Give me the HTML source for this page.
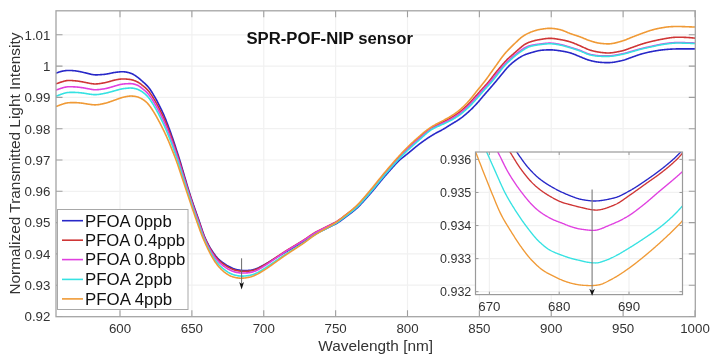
<!DOCTYPE html>
<html><head><meta charset="utf-8"><title>SPR-POF-NIP sensor</title>
<style>html,body{margin:0;padding:0;background:#fff;width:719px;height:360px;overflow:hidden}
text{font-family:"Liberation Sans",sans-serif}</style></head>
<body>
<svg width="719" height="360" viewBox="0 0 719 360" style="display:block;will-change:transform">
<defs><clipPath id="cm"><rect x="56" y="10.8" width="639.3" height="305.6"/></clipPath><clipPath id="ci"><rect x="475.5" y="152" width="207" height="142.6"/></clipPath></defs>
<rect width="719" height="360" fill="#fff"/>
<path d="M120.00,10.8V316.7M191.88,10.8V316.7M263.75,10.8V316.7M335.62,10.8V316.7M407.50,10.8V316.7M479.38,10.8V316.7M551.25,10.8V316.7M623.12,10.8V316.7M56.0,285.20H695.3M56.0,253.90H695.3M56.0,222.60H695.3M56.0,191.30H695.3M56.0,160.00H695.3M56.0,128.70H695.3M56.0,97.40H695.3M56.0,66.10H695.3M56.0,34.80H695.3" stroke="#f1f1f1" stroke-width="1.2" fill="none"/>
<g clip-path="url(#cm)" fill="none" stroke-width="1.6" stroke-linejoin="round">
<path d="M56,73.04 L56.5,72.92 L57,72.78 L57.5,72.62 L58,72.44 L58.5,72.27 L59,72.09 L59.5,71.92 L60,71.76 L60.5,71.62 L61,71.48 L61.5,71.36 L62,71.24 L62.5,71.13 L63,71.04 L63.5,70.94 L64,70.86 L64.5,70.78 L65,70.71 L65.5,70.64 L66,70.58 L66.5,70.54 L67,70.5 L67.5,70.47 L68,70.45 L68.5,70.44 L69,70.44 L69.5,70.45 L70,70.46 L70.5,70.48 L71,70.5 L71.5,70.53 L72,70.56 L72.5,70.6 L73,70.64 L73.5,70.68 L74,70.72 L74.5,70.77 L75,70.82 L75.5,70.88 L76,70.94 L76.5,71.01 L77,71.09 L77.5,71.17 L78,71.26 L78.5,71.35 L79,71.45 L79.5,71.55 L80,71.65 L80.5,71.75 L81,71.86 L81.5,71.97 L82,72.08 L82.5,72.19 L83,72.3 L83.5,72.42 L84,72.54 L84.5,72.66 L85,72.78 L85.5,72.9 L86,73.02 L86.5,73.14 L87,73.26 L87.5,73.39 L88,73.51 L88.5,73.63 L89,73.75 L89.5,73.88 L90,74 L90.5,74.12 L91,74.24 L91.5,74.36 L92,74.46 L92.5,74.56 L93,74.64 L93.5,74.71 L94,74.77 L94.5,74.81 L95,74.84 L95.5,74.86 L96,74.86 L96.5,74.86 L97,74.85 L97.5,74.83 L98,74.81 L98.5,74.79 L99,74.76 L99.5,74.74 L100,74.7 L100.5,74.67 L101,74.63 L101.5,74.6 L102,74.56 L102.5,74.52 L103,74.47 L103.5,74.43 L104,74.38 L104.5,74.33 L105,74.27 L105.5,74.21 L106,74.14 L106.5,74.07 L107,73.99 L107.5,73.9 L108,73.8 L108.5,73.7 L109,73.6 L109.5,73.49 L110,73.38 L110.5,73.27 L111,73.16 L111.5,73.05 L112,72.95 L112.5,72.85 L113,72.75 L113.5,72.66 L114,72.57 L114.5,72.49 L115,72.42 L115.5,72.35 L116,72.29 L116.5,72.22 L117,72.16 L117.5,72.11 L118,72.05 L118.5,72 L119,71.95 L119.5,71.9 L120,71.86 L120.5,71.82 L121,71.79 L121.5,71.77 L122,71.76 L122.5,71.75 L123,71.76 L123.5,71.77 L124,71.8 L124.5,71.84 L125,71.9 L125.5,71.96 L126,72.05 L126.5,72.14 L127,72.24 L127.5,72.35 L128,72.47 L128.5,72.6 L129,72.74 L129.5,72.88 L130,73.03 L130.5,73.2 L131,73.37 L131.5,73.57 L132,73.78 L132.5,74.01 L133,74.26 L133.5,74.53 L134,74.82 L134.5,75.12 L135,75.44 L135.5,75.77 L136,76.12 L136.5,76.47 L137,76.83 L137.5,77.2 L138,77.57 L138.5,77.96 L139,78.37 L139.5,78.78 L140,79.2 L140.5,79.63 L141,80.07 L141.5,80.52 L142,80.97 L142.5,81.42 L143,81.86 L143.5,82.31 L144,82.76 L144.5,83.21 L145,83.67 L145.5,84.13 L146,84.61 L146.5,85.1 L147,85.61 L147.5,86.15 L148,86.71 L148.5,87.3 L149,87.92 L149.5,88.57 L150,89.25 L150.5,89.97 L151,90.71 L151.5,91.49 L152,92.29 L152.5,93.11 L153,93.95 L153.5,94.79 L154,95.63 L154.5,96.49 L155,97.35 L155.5,98.22 L156,99.1 L156.5,100 L157,100.92 L157.5,101.86 L158,102.82 L158.5,103.8 L159,104.79 L159.5,105.79 L160,106.79 L160.5,107.81 L161,108.83 L161.5,109.86 L162,110.91 L162.5,111.98 L163,113.07 L163.5,114.19 L164,115.33 L164.5,116.5 L165,117.7 L165.5,118.92 L166,120.16 L166.5,121.43 L167,122.71 L167.5,124.01 L168,125.33 L168.5,126.66 L169,128 L169.5,129.35 L170,130.72 L170.5,132.11 L171,133.52 L171.5,134.95 L172,136.4 L172.5,137.87 L173,139.34 L173.5,140.83 L174,142.33 L174.5,143.84 L175,145.35 L175.5,146.87 L176,148.39 L176.5,149.92 L177,151.45 L177.5,152.99 L178,154.55 L178.5,156.11 L179,157.7 L179.5,159.3 L180,160.93 L180.5,162.58 L181,164.25 L181.5,165.94 L182,167.64 L182.5,169.35 L183,171.06 L183.5,172.77 L184,174.49 L184.5,176.2 L185,177.9 L185.5,179.6 L186,181.3 L186.5,182.98 L187,184.66 L187.5,186.32 L188,187.96 L188.5,189.58 L189,191.18 L189.5,192.77 L190,194.34 L190.5,195.89 L191,197.42 L191.5,198.94 L192,200.45 L192.5,201.95 L193,203.43 L193.5,204.9 L194,206.35 L194.5,207.8 L195,209.22 L195.5,210.64 L196,212.05 L196.5,213.45 L197,214.85 L197.5,216.25 L198,217.65 L198.5,219.07 L199,220.51 L199.5,221.97 L200,223.46 L200.5,224.96 L201,226.48 L201.5,228 L202,229.51 L202.5,231 L203,232.44 L203.5,233.83 L204,235.16 L204.5,236.43 L205,237.64 L205.5,238.79 L206,239.9 L206.5,240.96 L207,241.98 L207.5,242.97 L208,243.93 L208.5,244.87 L209,245.78 L209.5,246.67 L210,247.53 L210.5,248.37 L211,249.19 L211.5,249.99 L212,250.76 L212.5,251.52 L213,252.25 L213.5,252.96 L214,253.66 L214.5,254.34 L215,255 L215.5,255.64 L216,256.26 L216.5,256.85 L217,257.42 L217.5,257.97 L218,258.49 L218.5,258.99 L219,259.46 L219.5,259.92 L220,260.36 L220.5,260.78 L221,261.18 L221.5,261.58 L222,261.96 L222.5,262.34 L223,262.7 L223.5,263.06 L224,263.41 L224.5,263.76 L225,264.09 L225.5,264.42 L226,264.75 L226.5,265.06 L227,265.37 L227.5,265.66 L228,265.95 L228.5,266.24 L229,266.51 L229.5,266.78 L230,267.04 L230.5,267.29 L231,267.54 L231.5,267.78 L232,268.01 L232.5,268.23 L233,268.44 L233.5,268.64 L234,268.82 L234.5,268.99 L235,269.15 L235.5,269.29 L236,269.43 L236.5,269.56 L237,269.68 L237.5,269.79 L238,269.89 L238.5,269.99 L239,270.08 L239.5,270.15 L240,270.22 L240.5,270.28 L241,270.33 L241.5,270.38 L242,270.41 L242.5,270.44 L243,270.46 L243.5,270.48 L244,270.49 L244.5,270.49 L245,270.5 L245.5,270.5 L246,270.49 L246.5,270.48 L247,270.47 L247.5,270.46 L248,270.44 L248.5,270.41 L249,270.38 L249.5,270.34 L250,270.3 L250.5,270.24 L251,270.17 L251.5,270.08 L252,269.99 L252.5,269.88 L253,269.75 L253.5,269.62 L254,269.48 L254.5,269.32 L255,269.16 L255.5,268.99 L256,268.81 L256.5,268.62 L257,268.42 L257.5,268.22 L258,268 L258.5,267.77 L259,267.54 L259.5,267.29 L260,267.04 L260.5,266.79 L261,266.53 L261.5,266.26 L262,266 L262.5,265.73 L263,265.46 L263.5,265.18 L264,264.91 L264.5,264.63 L265,264.36 L265.5,264.08 L266,263.8 L266.5,263.51 L267,263.22 L267.5,262.93 L268,262.64 L268.5,262.34 L269,262.04 L269.5,261.73 L270,261.43 L270.5,261.12 L271,260.81 L271.5,260.5 L272,260.19 L272.5,259.88 L273,259.58 L273.5,259.27 L274,258.96 L274.5,258.66 L275,258.35 L275.5,258.05 L276,257.75 L276.5,257.44 L277,257.14 L277.5,256.84 L278,256.53 L278.5,256.23 L279,255.93 L279.5,255.62 L280,255.32 L280.5,255.02 L281,254.72 L281.5,254.42 L282,254.12 L282.5,253.82 L283,253.52 L283.5,253.23 L284,252.94 L284.5,252.65 L285,252.36 L285.5,252.07 L286,251.79 L286.5,251.51 L287,251.23 L287.5,250.95 L288,250.67 L288.5,250.39 L289,250.12 L289.5,249.84 L290,249.56 L290.5,249.28 L291,248.99 L291.5,248.71 L292,248.42 L292.5,248.13 L293,247.84 L293.5,247.55 L294,247.26 L294.5,246.97 L295,246.68 L295.5,246.39 L296,246.09 L296.5,245.8 L297,245.51 L297.5,245.22 L298,244.93 L298.5,244.63 L299,244.34 L299.5,244.05 L300,243.75 L300.5,243.46 L301,243.16 L301.5,242.87 L302,242.57 L302.5,242.27 L303,241.96 L303.5,241.66 L304,241.35 L304.5,241.03 L305,240.72 L305.5,240.4 L306,240.07 L306.5,239.74 L307,239.41 L307.5,239.07 L308,238.73 L308.5,238.39 L309,238.04 L309.5,237.7 L310,237.36 L310.5,237.02 L311,236.69 L311.5,236.36 L312,236.03 L312.5,235.71 L313,235.4 L313.5,235.1 L314,234.8 L314.5,234.51 L315,234.22 L315.5,233.94 L316,233.67 L316.5,233.4 L317,233.14 L317.5,232.87 L318,232.62 L318.5,232.36 L319,232.11 L319.5,231.86 L320,231.62 L320.5,231.37 L321,231.13 L321.5,230.89 L322,230.65 L322.5,230.41 L323,230.17 L323.5,229.93 L324,229.69 L324.5,229.45 L325,229.21 L325.5,228.97 L326,228.73 L326.5,228.49 L327,228.25 L327.5,228.01 L328,227.77 L328.5,227.53 L329,227.29 L329.5,227.06 L330,226.82 L330.5,226.59 L331,226.35 L331.5,226.12 L332,225.88 L332.5,225.64 L333,225.4 L333.5,225.15 L334,224.9 L334.5,224.64 L335,224.37 L335.5,224.1 L336,223.81 L336.5,223.52 L337,223.22 L337.5,222.92 L338,222.6 L338.5,222.27 L339,221.94 L339.5,221.6 L340,221.25 L340.5,220.9 L341,220.54 L341.5,220.18 L342,219.81 L342.5,219.44 L343,219.07 L343.5,218.69 L344,218.32 L344.5,217.94 L345,217.57 L345.5,217.19 L346,216.82 L346.5,216.44 L347,216.07 L347.5,215.7 L348,215.33 L348.5,214.96 L349,214.58 L349.5,214.21 L350,213.83 L350.5,213.45 L351,213.07 L351.5,212.69 L352,212.3 L352.5,211.9 L353,211.5 L353.5,211.09 L354,210.68 L354.5,210.26 L355,209.83 L355.5,209.4 L356,208.95 L356.5,208.5 L357,208.04 L357.5,207.57 L358,207.09 L358.5,206.6 L359,206.11 L359.5,205.6 L360,205.09 L360.5,204.58 L361,204.06 L361.5,203.53 L362,202.99 L362.5,202.45 L363,201.91 L363.5,201.36 L364,200.81 L364.5,200.26 L365,199.7 L365.5,199.14 L366,198.58 L366.5,198.01 L367,197.45 L367.5,196.88 L368,196.32 L368.5,195.75 L369,195.18 L369.5,194.61 L370,194.04 L370.5,193.46 L371,192.89 L371.5,192.31 L372,191.72 L372.5,191.13 L373,190.54 L373.5,189.94 L374,189.34 L374.5,188.74 L375,188.14 L375.5,187.53 L376,186.92 L376.5,186.31 L377,185.7 L377.5,185.09 L378,184.48 L378.5,183.86 L379,183.25 L379.5,182.64 L380,182.04 L380.5,181.43 L381,180.83 L381.5,180.22 L382,179.63 L382.5,179.03 L383,178.44 L383.5,177.85 L384,177.26 L384.5,176.68 L385,176.1 L385.5,175.52 L386,174.94 L386.5,174.37 L387,173.79 L387.5,173.22 L388,172.65 L388.5,172.08 L389,171.51 L389.5,170.95 L390,170.38 L390.5,169.82 L391,169.25 L391.5,168.69 L392,168.13 L392.5,167.57 L393,167.01 L393.5,166.46 L394,165.9 L394.5,165.35 L395,164.79 L395.5,164.24 L396,163.7 L396.5,163.16 L397,162.63 L397.5,162.11 L398,161.6 L398.5,161.11 L399,160.64 L399.5,160.19 L400,159.74 L400.5,159.32 L401,158.9 L401.5,158.49 L402,158.09 L402.5,157.69 L403,157.3 L403.5,156.91 L404,156.53 L404.5,156.14 L405,155.75 L405.5,155.37 L406,154.98 L406.5,154.58 L407,154.18 L407.5,153.78 L408,153.37 L408.5,152.96 L409,152.54 L409.5,152.13 L410,151.71 L410.5,151.28 L411,150.86 L411.5,150.44 L412,150.02 L412.5,149.6 L413,149.17 L413.5,148.76 L414,148.34 L414.5,147.93 L415,147.51 L415.5,147.11 L416,146.7 L416.5,146.3 L417,145.91 L417.5,145.52 L418,145.13 L418.5,144.74 L419,144.36 L419.5,143.98 L420,143.61 L420.5,143.23 L421,142.86 L421.5,142.49 L422,142.13 L422.5,141.77 L423,141.4 L423.5,141.05 L424,140.69 L424.5,140.34 L425,139.99 L425.5,139.64 L426,139.3 L426.5,138.95 L427,138.62 L427.5,138.28 L428,137.95 L428.5,137.62 L429,137.29 L429.5,136.97 L430,136.65 L430.5,136.33 L431,136.02 L431.5,135.7 L432,135.4 L432.5,135.09 L433,134.79 L433.5,134.49 L434,134.2 L434.5,133.91 L435,133.62 L435.5,133.34 L436,133.06 L436.5,132.79 L437,132.52 L437.5,132.25 L438,131.99 L438.5,131.73 L439,131.47 L439.5,131.21 L440,130.95 L440.5,130.69 L441,130.43 L441.5,130.17 L442,129.9 L442.5,129.63 L443,129.35 L443.5,129.07 L444,128.78 L444.5,128.49 L445,128.19 L445.5,127.88 L446,127.57 L446.5,127.26 L447,126.94 L447.5,126.62 L448,126.29 L448.5,125.97 L449,125.65 L449.5,125.33 L450,125.02 L450.5,124.71 L451,124.4 L451.5,124.09 L452,123.79 L452.5,123.49 L453,123.19 L453.5,122.89 L454,122.59 L454.5,122.29 L455,121.99 L455.5,121.69 L456,121.38 L456.5,121.08 L457,120.76 L457.5,120.45 L458,120.12 L458.5,119.79 L459,119.46 L459.5,119.12 L460,118.77 L460.5,118.41 L461,118.04 L461.5,117.67 L462,117.3 L462.5,116.91 L463,116.52 L463.5,116.12 L464,115.72 L464.5,115.31 L465,114.9 L465.5,114.48 L466,114.05 L466.5,113.62 L467,113.19 L467.5,112.75 L468,112.3 L468.5,111.85 L469,111.4 L469.5,110.94 L470,110.48 L470.5,110.01 L471,109.53 L471.5,109.05 L472,108.56 L472.5,108.07 L473,107.57 L473.5,107.06 L474,106.55 L474.5,106.04 L475,105.51 L475.5,104.98 L476,104.45 L476.5,103.91 L477,103.36 L477.5,102.81 L478,102.25 L478.5,101.69 L479,101.11 L479.5,100.53 L480,99.95 L480.5,99.35 L481,98.76 L481.5,98.15 L482,97.55 L482.5,96.96 L483,96.36 L483.5,95.77 L484,95.19 L484.5,94.61 L485,94.03 L485.5,93.46 L486,92.89 L486.5,92.31 L487,91.74 L487.5,91.17 L488,90.6 L488.5,90.02 L489,89.45 L489.5,88.87 L490,88.29 L490.5,87.72 L491,87.14 L491.5,86.56 L492,85.98 L492.5,85.4 L493,84.81 L493.5,84.23 L494,83.64 L494.5,83.05 L495,82.46 L495.5,81.87 L496,81.27 L496.5,80.67 L497,80.07 L497.5,79.46 L498,78.85 L498.5,78.25 L499,77.64 L499.5,77.03 L500,76.42 L500.5,75.81 L501,75.21 L501.5,74.6 L502,73.99 L502.5,73.39 L503,72.78 L503.5,72.17 L504,71.56 L504.5,70.96 L505,70.36 L505.5,69.76 L506,69.17 L506.5,68.59 L507,68.03 L507.5,67.48 L508,66.95 L508.5,66.43 L509,65.92 L509.5,65.43 L510,64.96 L510.5,64.49 L511,64.04 L511.5,63.6 L512,63.16 L512.5,62.74 L513,62.33 L513.5,61.92 L514,61.53 L514.5,61.14 L515,60.76 L515.5,60.39 L516,60.02 L516.5,59.67 L517,59.31 L517.5,58.96 L518,58.62 L518.5,58.28 L519,57.95 L519.5,57.62 L520,57.31 L520.5,57 L521,56.7 L521.5,56.41 L522,56.13 L522.5,55.87 L523,55.61 L523.5,55.37 L524,55.14 L524.5,54.92 L525,54.72 L525.5,54.52 L526,54.33 L526.5,54.15 L527,53.97 L527.5,53.81 L528,53.64 L528.5,53.49 L529,53.33 L529.5,53.18 L530,53.03 L530.5,52.89 L531,52.75 L531.5,52.6 L532,52.46 L532.5,52.32 L533,52.18 L533.5,52.03 L534,51.89 L534.5,51.74 L535,51.6 L535.5,51.45 L536,51.31 L536.5,51.17 L537,51.04 L537.5,50.91 L538,50.8 L538.5,50.69 L539,50.6 L539.5,50.52 L540,50.44 L540.5,50.38 L541,50.32 L541.5,50.27 L542,50.22 L542.5,50.17 L543,50.13 L543.5,50.09 L544,50.05 L544.5,50.02 L545,49.98 L545.5,49.95 L546,49.93 L546.5,49.9 L547,49.88 L547.5,49.86 L548,49.85 L548.5,49.83 L549,49.83 L549.5,49.82 L550,49.83 L550.5,49.83 L551,49.85 L551.5,49.86 L552,49.89 L552.5,49.92 L553,49.96 L553.5,50 L554,50.04 L554.5,50.09 L555,50.15 L555.5,50.21 L556,50.27 L556.5,50.33 L557,50.39 L557.5,50.46 L558,50.53 L558.5,50.6 L559,50.66 L559.5,50.73 L560,50.81 L560.5,50.88 L561,50.95 L561.5,51.03 L562,51.11 L562.5,51.19 L563,51.28 L563.5,51.37 L564,51.46 L564.5,51.55 L565,51.65 L565.5,51.75 L566,51.86 L566.5,51.97 L567,52.08 L567.5,52.19 L568,52.31 L568.5,52.43 L569,52.56 L569.5,52.69 L570,52.83 L570.5,52.98 L571,53.13 L571.5,53.29 L572,53.46 L572.5,53.64 L573,53.82 L573.5,54.01 L574,54.21 L574.5,54.41 L575,54.61 L575.5,54.82 L576,55.03 L576.5,55.24 L577,55.45 L577.5,55.67 L578,55.88 L578.5,56.08 L579,56.29 L579.5,56.49 L580,56.7 L580.5,56.9 L581,57.11 L581.5,57.31 L582,57.52 L582.5,57.73 L583,57.93 L583.5,58.14 L584,58.35 L584.5,58.56 L585,58.76 L585.5,58.96 L586,59.16 L586.5,59.35 L587,59.53 L587.5,59.71 L588,59.88 L588.5,60.04 L589,60.19 L589.5,60.33 L590,60.47 L590.5,60.6 L591,60.73 L591.5,60.85 L592,60.96 L592.5,61.08 L593,61.19 L593.5,61.29 L594,61.4 L594.5,61.5 L595,61.59 L595.5,61.68 L596,61.77 L596.5,61.85 L597,61.93 L597.5,62 L598,62.07 L598.5,62.13 L599,62.18 L599.5,62.24 L600,62.28 L600.5,62.33 L601,62.37 L601.5,62.41 L602,62.44 L602.5,62.48 L603,62.51 L603.5,62.54 L604,62.57 L604.5,62.59 L605,62.61 L605.5,62.63 L606,62.65 L606.5,62.66 L607,62.67 L607.5,62.67 L608,62.67 L608.5,62.67 L609,62.65 L609.5,62.63 L610,62.6 L610.5,62.57 L611,62.53 L611.5,62.48 L612,62.43 L612.5,62.37 L613,62.31 L613.5,62.24 L614,62.17 L614.5,62.09 L615,62.01 L615.5,61.92 L616,61.83 L616.5,61.74 L617,61.64 L617.5,61.54 L618,61.44 L618.5,61.34 L619,61.24 L619.5,61.13 L620,61.02 L620.5,60.92 L621,60.81 L621.5,60.69 L622,60.58 L622.5,60.45 L623,60.32 L623.5,60.19 L624,60.05 L624.5,59.89 L625,59.74 L625.5,59.57 L626,59.4 L626.5,59.22 L627,59.04 L627.5,58.86 L628,58.68 L628.5,58.49 L629,58.3 L629.5,58.12 L630,57.93 L630.5,57.75 L631,57.56 L631.5,57.38 L632,57.21 L632.5,57.03 L633,56.85 L633.5,56.67 L634,56.49 L634.5,56.32 L635,56.14 L635.5,55.96 L636,55.78 L636.5,55.6 L637,55.43 L637.5,55.25 L638,55.08 L638.5,54.91 L639,54.74 L639.5,54.58 L640,54.42 L640.5,54.26 L641,54.11 L641.5,53.96 L642,53.82 L642.5,53.68 L643,53.54 L643.5,53.41 L644,53.28 L644.5,53.15 L645,53.03 L645.5,52.91 L646,52.79 L646.5,52.67 L647,52.55 L647.5,52.44 L648,52.33 L648.5,52.22 L649,52.11 L649.5,52.01 L650,51.9 L650.5,51.8 L651,51.7 L651.5,51.6 L652,51.51 L652.5,51.41 L653,51.32 L653.5,51.22 L654,51.13 L654.5,51.04 L655,50.95 L655.5,50.87 L656,50.78 L656.5,50.7 L657,50.61 L657.5,50.53 L658,50.45 L658.5,50.38 L659,50.3 L659.5,50.23 L660,50.16 L660.5,50.09 L661,50.03 L661.5,49.97 L662,49.91 L662.5,49.85 L663,49.8 L663.5,49.74 L664,49.69 L664.5,49.64 L665,49.59 L665.5,49.55 L666,49.5 L666.5,49.46 L667,49.42 L667.5,49.38 L668,49.34 L668.5,49.3 L669,49.27 L669.5,49.24 L670,49.2 L670.5,49.17 L671,49.14 L671.5,49.11 L672,49.09 L672.5,49.06 L673,49.03 L673.5,49.01 L674,48.99 L674.5,48.97 L675,48.95 L675.5,48.94 L676,48.92 L676.5,48.92 L677,48.91 L677.5,48.91 L678,48.9 L678.5,48.9 L679,48.9 L679.5,48.9 L680,48.9 L680.5,48.9 L681,48.9 L681.5,48.9 L682,48.9 L682.5,48.9 L683,48.9 L683.5,48.9 L684,48.9 L684.5,48.9 L685,48.9 L685.5,48.9 L686,48.9 L686.5,48.9 L687,48.9 L687.5,48.9 L688,48.9 L688.5,48.9 L689,48.9 L689.5,48.9 L690,48.9 L690.5,48.9 L691,48.9 L691.5,48.9 L692,48.9 L692.5,48.9 L693,48.9 L693.5,48.9 L694,48.9 L694.5,48.9 L695,48.9" stroke="#2828c8"/>
<path d="M56,83.75 L56.5,83.64 L57,83.5 L57.5,83.34 L58,83.16 L58.5,82.98 L59,82.8 L59.5,82.63 L60,82.45 L60.5,82.28 L61,82.12 L61.5,81.96 L62,81.81 L62.5,81.66 L63,81.51 L63.5,81.37 L64,81.23 L64.5,81.09 L65,80.97 L65.5,80.85 L66,80.75 L66.5,80.66 L67,80.58 L67.5,80.53 L68,80.49 L68.5,80.46 L69,80.45 L69.5,80.45 L70,80.47 L70.5,80.48 L71,80.51 L71.5,80.54 L72,80.57 L72.5,80.6 L73,80.64 L73.5,80.68 L74,80.72 L74.5,80.77 L75,80.81 L75.5,80.86 L76,80.91 L76.5,80.97 L77,81.02 L77.5,81.08 L78,81.15 L78.5,81.22 L79,81.29 L79.5,81.36 L80,81.44 L80.5,81.52 L81,81.6 L81.5,81.68 L82,81.77 L82.5,81.87 L83,81.96 L83.5,82.06 L84,82.17 L84.5,82.27 L85,82.38 L85.5,82.49 L86,82.59 L86.5,82.69 L87,82.8 L87.5,82.9 L88,82.99 L88.5,83.09 L89,83.18 L89.5,83.27 L90,83.37 L90.5,83.45 L91,83.54 L91.5,83.62 L92,83.7 L92.5,83.76 L93,83.82 L93.5,83.87 L94,83.91 L94.5,83.93 L95,83.94 L95.5,83.94 L96,83.93 L96.5,83.91 L97,83.88 L97.5,83.84 L98,83.8 L98.5,83.75 L99,83.69 L99.5,83.62 L100,83.55 L100.5,83.47 L101,83.4 L101.5,83.31 L102,83.23 L102.5,83.14 L103,83.05 L103.5,82.96 L104,82.87 L104.5,82.78 L105,82.68 L105.5,82.57 L106,82.46 L106.5,82.34 L107,82.22 L107.5,82.09 L108,81.95 L108.5,81.8 L109,81.66 L109.5,81.51 L110,81.36 L110.5,81.2 L111,81.05 L111.5,80.91 L112,80.76 L112.5,80.62 L113,80.49 L113.5,80.36 L114,80.24 L114.5,80.13 L115,80.02 L115.5,79.92 L116,79.82 L116.5,79.73 L117,79.63 L117.5,79.54 L118,79.46 L118.5,79.37 L119,79.3 L119.5,79.22 L120,79.16 L120.5,79.1 L121,79.05 L121.5,79.01 L122,78.98 L122.5,78.96 L123,78.94 L123.5,78.94 L124,78.95 L124.5,78.96 L125,78.98 L125.5,79.01 L126,79.04 L126.5,79.08 L127,79.13 L127.5,79.18 L128,79.23 L128.5,79.28 L129,79.35 L129.5,79.41 L130,79.48 L130.5,79.56 L131,79.65 L131.5,79.75 L132,79.86 L132.5,79.99 L133,80.12 L133.5,80.28 L134,80.45 L134.5,80.63 L135,80.82 L135.5,81.03 L136,81.25 L136.5,81.48 L137,81.72 L137.5,81.97 L138,82.24 L138.5,82.53 L139,82.84 L139.5,83.16 L140,83.51 L140.5,83.86 L141,84.23 L141.5,84.62 L142,85.01 L142.5,85.4 L143,85.8 L143.5,86.2 L144,86.61 L144.5,87.03 L145,87.46 L145.5,87.9 L146,88.35 L146.5,88.83 L147,89.32 L147.5,89.85 L148,90.4 L148.5,90.98 L149,91.59 L149.5,92.23 L150,92.9 L150.5,93.6 L151,94.33 L151.5,95.09 L152,95.87 L152.5,96.67 L153,97.48 L153.5,98.3 L154,99.13 L154.5,99.97 L155,100.82 L155.5,101.68 L156,102.55 L156.5,103.44 L157,104.34 L157.5,105.27 L158,106.21 L158.5,107.16 L159,108.13 L159.5,109.11 L160,110.1 L160.5,111.09 L161,112.1 L161.5,113.11 L162,114.14 L162.5,115.19 L163,116.25 L163.5,117.34 L164,118.45 L164.5,119.59 L165,120.75 L165.5,121.93 L166,123.13 L166.5,124.36 L167,125.6 L167.5,126.86 L168,128.13 L168.5,129.42 L169,130.72 L169.5,132.04 L170,133.37 L170.5,134.73 L171,136.1 L171.5,137.48 L172,138.88 L172.5,140.3 L173,141.73 L173.5,143.17 L174,144.62 L174.5,146.07 L175,147.54 L175.5,149.02 L176,150.5 L176.5,151.99 L177,153.5 L177.5,155.01 L178,156.54 L178.5,158.08 L179,159.64 L179.5,161.22 L180,162.82 L180.5,164.44 L181,166.07 L181.5,167.72 L182,169.38 L182.5,171.05 L183,172.72 L183.5,174.39 L184,176.06 L184.5,177.73 L185,179.39 L185.5,181.06 L186,182.71 L186.5,184.36 L187,186 L187.5,187.63 L188,189.24 L188.5,190.84 L189,192.43 L189.5,193.99 L190,195.54 L190.5,197.08 L191,198.6 L191.5,200.11 L192,201.61 L192.5,203.1 L193,204.57 L193.5,206.04 L194,207.49 L194.5,208.93 L195,210.35 L195.5,211.77 L196,213.18 L196.5,214.58 L197,215.98 L197.5,217.38 L198,218.79 L198.5,220.2 L199,221.63 L199.5,223.08 L200,224.54 L200.5,226.02 L201,227.51 L201.5,228.99 L202,230.46 L202.5,231.9 L203,233.3 L203.5,234.66 L204,235.96 L204.5,237.2 L205,238.39 L205.5,239.54 L206,240.64 L206.5,241.7 L207,242.72 L207.5,243.72 L208,244.69 L208.5,245.64 L209,246.56 L209.5,247.47 L210,248.34 L210.5,249.2 L211,250.03 L211.5,250.84 L212,251.63 L212.5,252.4 L213,253.14 L213.5,253.87 L214,254.58 L214.5,255.27 L215,255.94 L215.5,256.58 L216,257.21 L216.5,257.81 L217,258.39 L217.5,258.95 L218,259.48 L218.5,259.99 L219,260.47 L219.5,260.94 L220,261.39 L220.5,261.82 L221,262.23 L221.5,262.64 L222,263.03 L222.5,263.41 L223,263.78 L223.5,264.14 L224,264.49 L224.5,264.84 L225,265.18 L225.5,265.51 L226,265.83 L226.5,266.15 L227,266.46 L227.5,266.75 L228,267.04 L228.5,267.32 L229,267.59 L229.5,267.85 L230,268.11 L230.5,268.35 L231,268.59 L231.5,268.82 L232,269.04 L232.5,269.25 L233,269.45 L233.5,269.64 L234,269.81 L234.5,269.97 L235,270.12 L235.5,270.26 L236,270.39 L236.5,270.5 L237,270.61 L237.5,270.72 L238,270.81 L238.5,270.9 L239,270.98 L239.5,271.05 L240,271.11 L240.5,271.16 L241,271.2 L241.5,271.23 L242,271.25 L242.5,271.27 L243,271.28 L243.5,271.29 L244,271.29 L244.5,271.29 L245,271.28 L245.5,271.27 L246,271.26 L246.5,271.24 L247,271.22 L247.5,271.19 L248,271.16 L248.5,271.13 L249,271.09 L249.5,271.04 L250,270.99 L250.5,270.92 L251,270.84 L251.5,270.75 L252,270.64 L252.5,270.52 L253,270.39 L253.5,270.24 L254,270.09 L254.5,269.92 L255,269.75 L255.5,269.56 L256,269.37 L256.5,269.16 L257,268.94 L257.5,268.72 L258,268.48 L258.5,268.23 L259,267.98 L259.5,267.71 L260,267.44 L260.5,267.17 L261,266.89 L261.5,266.6 L262,266.32 L262.5,266.03 L263,265.74 L263.5,265.44 L264,265.15 L264.5,264.85 L265,264.56 L265.5,264.26 L266,263.96 L266.5,263.65 L267,263.34 L267.5,263.03 L268,262.72 L268.5,262.4 L269,262.07 L269.5,261.75 L270,261.41 L270.5,261.08 L271,260.75 L271.5,260.41 L272,260.07 L272.5,259.73 L273,259.4 L273.5,259.06 L274,258.72 L274.5,258.39 L275,258.05 L275.5,257.72 L276,257.39 L276.5,257.05 L277,256.72 L277.5,256.39 L278,256.05 L278.5,255.72 L279,255.39 L279.5,255.05 L280,254.72 L280.5,254.39 L281,254.06 L281.5,253.73 L282,253.4 L282.5,253.07 L283,252.74 L283.5,252.42 L284,252.1 L284.5,251.78 L285,251.46 L285.5,251.14 L286,250.83 L286.5,250.52 L287,250.21 L287.5,249.9 L288,249.59 L288.5,249.29 L289,248.99 L289.5,248.68 L290,248.38 L290.5,248.08 L291,247.78 L291.5,247.48 L292,247.18 L292.5,246.88 L293,246.58 L293.5,246.28 L294,245.98 L294.5,245.68 L295,245.38 L295.5,245.08 L296,244.77 L296.5,244.47 L297,244.17 L297.5,243.87 L298,243.57 L298.5,243.26 L299,242.96 L299.5,242.66 L300,242.35 L300.5,242.05 L301,241.74 L301.5,241.44 L302,241.13 L302.5,240.82 L303,240.5 L303.5,240.19 L304,239.87 L304.5,239.54 L305,239.22 L305.5,238.89 L306,238.55 L306.5,238.21 L307,237.87 L307.5,237.52 L308,237.17 L308.5,236.82 L309,236.46 L309.5,236.11 L310,235.76 L310.5,235.41 L311,235.07 L311.5,234.73 L312,234.39 L312.5,234.06 L313,233.74 L313.5,233.43 L314,233.12 L314.5,232.82 L315,232.53 L315.5,232.24 L316,231.96 L316.5,231.68 L317,231.41 L317.5,231.14 L318,230.88 L318.5,230.62 L319,230.36 L319.5,230.11 L320,229.86 L320.5,229.6 L321,229.36 L321.5,229.11 L322,228.86 L322.5,228.62 L323,228.37 L323.5,228.13 L324,227.88 L324.5,227.64 L325,227.39 L325.5,227.15 L326,226.9 L326.5,226.66 L327,226.41 L327.5,226.16 L328,225.92 L328.5,225.67 L329,225.43 L329.5,225.18 L330,224.94 L330.5,224.7 L331,224.46 L331.5,224.22 L332,223.97 L332.5,223.73 L333,223.48 L333.5,223.23 L334,222.97 L334.5,222.7 L335,222.43 L335.5,222.15 L336,221.86 L336.5,221.57 L337,221.26 L337.5,220.95 L338,220.62 L338.5,220.29 L339,219.95 L339.5,219.61 L340,219.25 L340.5,218.89 L341,218.53 L341.5,218.16 L342,217.78 L342.5,217.4 L343,217.02 L343.5,216.64 L344,216.26 L344.5,215.87 L345,215.49 L345.5,215.11 L346,214.73 L346.5,214.35 L347,213.97 L347.5,213.59 L348,213.21 L348.5,212.83 L349,212.45 L349.5,212.07 L350,211.68 L350.5,211.3 L351,210.91 L351.5,210.51 L352,210.12 L352.5,209.71 L353,209.31 L353.5,208.89 L354,208.47 L354.5,208.04 L355,207.61 L355.5,207.16 L356,206.71 L356.5,206.25 L357,205.78 L357.5,205.3 L358,204.82 L358.5,204.32 L359,203.82 L359.5,203.31 L360,202.79 L360.5,202.27 L361,201.74 L361.5,201.2 L362,200.66 L362.5,200.12 L363,199.57 L363.5,199.01 L364,198.45 L364.5,197.89 L365,197.32 L365.5,196.76 L366,196.19 L366.5,195.62 L367,195.04 L367.5,194.47 L368,193.89 L368.5,193.32 L369,192.74 L369.5,192.16 L370,191.58 L370.5,190.99 L371,190.4 L371.5,189.81 L372,189.21 L372.5,188.61 L373,188 L373.5,187.39 L374,186.77 L374.5,186.15 L375,185.53 L375.5,184.91 L376,184.29 L376.5,183.66 L377,183.04 L377.5,182.41 L378,181.78 L378.5,181.16 L379,180.53 L379.5,179.9 L380,179.28 L380.5,178.66 L381,178.04 L381.5,177.42 L382,176.81 L382.5,176.2 L383,175.59 L383.5,174.99 L384,174.39 L384.5,173.79 L385,173.19 L385.5,172.6 L386,172.01 L386.5,171.42 L387,170.83 L387.5,170.24 L388,169.65 L388.5,169.07 L389,168.49 L389.5,167.9 L390,167.32 L390.5,166.74 L391,166.16 L391.5,165.59 L392,165.01 L392.5,164.44 L393,163.86 L393.5,163.29 L394,162.72 L394.5,162.15 L395,161.59 L395.5,161.03 L396,160.47 L396.5,159.92 L397,159.38 L397.5,158.84 L398,158.3 L398.5,157.76 L399,157.22 L399.5,156.68 L400,156.14 L400.5,155.6 L401,155.06 L401.5,154.51 L402,153.97 L402.5,153.43 L403,152.89 L403.5,152.35 L404,151.82 L404.5,151.29 L405,150.76 L405.5,150.25 L406,149.73 L406.5,149.22 L407,148.72 L407.5,148.23 L408,147.74 L408.5,147.26 L409,146.78 L409.5,146.31 L410,145.84 L410.5,145.37 L411,144.91 L411.5,144.46 L412,144.01 L412.5,143.56 L413,143.11 L413.5,142.67 L414,142.23 L414.5,141.79 L415,141.35 L415.5,140.92 L416,140.49 L416.5,140.06 L417,139.63 L417.5,139.2 L418,138.77 L418.5,138.35 L419,137.92 L419.5,137.49 L420,137.07 L420.5,136.64 L421,136.22 L421.5,135.8 L422,135.38 L422.5,134.96 L423,134.54 L423.5,134.13 L424,133.72 L424.5,133.31 L425,132.91 L425.5,132.52 L426,132.13 L426.5,131.74 L427,131.36 L427.5,130.99 L428,130.62 L428.5,130.27 L429,129.91 L429.5,129.57 L430,129.23 L430.5,128.91 L431,128.58 L431.5,128.27 L432,127.96 L432.5,127.66 L433,127.36 L433.5,127.07 L434,126.78 L434.5,126.5 L435,126.22 L435.5,125.94 L436,125.66 L436.5,125.39 L437,125.12 L437.5,124.85 L438,124.58 L438.5,124.31 L439,124.04 L439.5,123.77 L440,123.51 L440.5,123.24 L441,122.98 L441.5,122.72 L442,122.46 L442.5,122.21 L443,121.95 L443.5,121.7 L444,121.45 L444.5,121.19 L445,120.94 L445.5,120.69 L446,120.44 L446.5,120.18 L447,119.92 L447.5,119.66 L448,119.39 L448.5,119.12 L449,118.84 L449.5,118.56 L450,118.28 L450.5,117.99 L451,117.7 L451.5,117.4 L452,117.1 L452.5,116.79 L453,116.49 L453.5,116.17 L454,115.86 L454.5,115.54 L455,115.21 L455.5,114.88 L456,114.55 L456.5,114.21 L457,113.86 L457.5,113.51 L458,113.16 L458.5,112.79 L459,112.42 L459.5,112.05 L460,111.66 L460.5,111.27 L461,110.87 L461.5,110.46 L462,110.05 L462.5,109.62 L463,109.19 L463.5,108.75 L464,108.3 L464.5,107.84 L465,107.38 L465.5,106.91 L466,106.44 L466.5,105.96 L467,105.48 L467.5,104.99 L468,104.49 L468.5,103.99 L469,103.49 L469.5,102.98 L470,102.46 L470.5,101.94 L471,101.4 L471.5,100.86 L472,100.31 L472.5,99.76 L473,99.2 L473.5,98.64 L474,98.08 L474.5,97.52 L475,96.96 L475.5,96.4 L476,95.84 L476.5,95.28 L477,94.72 L477.5,94.16 L478,93.6 L478.5,93.04 L479,92.49 L479.5,91.93 L480,91.37 L480.5,90.82 L481,90.27 L481.5,89.71 L482,89.17 L482.5,88.62 L483,88.08 L483.5,87.54 L484,87 L484.5,86.46 L485,85.91 L485.5,85.37 L486,84.82 L486.5,84.26 L487,83.69 L487.5,83.12 L488,82.53 L488.5,81.93 L489,81.32 L489.5,80.7 L490,80.07 L490.5,79.42 L491,78.77 L491.5,78.11 L492,77.45 L492.5,76.79 L493,76.13 L493.5,75.47 L494,74.82 L494.5,74.18 L495,73.54 L495.5,72.92 L496,72.3 L496.5,71.69 L497,71.09 L497.5,70.49 L498,69.9 L498.5,69.31 L499,68.72 L499.5,68.13 L500,67.55 L500.5,66.97 L501,66.39 L501.5,65.8 L502,65.22 L502.5,64.64 L503,64.06 L503.5,63.48 L504,62.91 L504.5,62.34 L505,61.78 L505.5,61.24 L506,60.7 L506.5,60.18 L507,59.67 L507.5,59.18 L508,58.7 L508.5,58.23 L509,57.78 L509.5,57.33 L510,56.89 L510.5,56.45 L511,56.02 L511.5,55.59 L512,55.15 L512.5,54.72 L513,54.28 L513.5,53.84 L514,53.4 L514.5,52.96 L515,52.51 L515.5,52.07 L516,51.62 L516.5,51.18 L517,50.74 L517.5,50.3 L518,49.87 L518.5,49.43 L519,49 L519.5,48.56 L520,48.13 L520.5,47.7 L521,47.27 L521.5,46.85 L522,46.44 L522.5,46.04 L523,45.65 L523.5,45.28 L524,44.93 L524.5,44.6 L525,44.29 L525.5,44 L526,43.73 L526.5,43.47 L527,43.23 L527.5,43 L528,42.78 L528.5,42.57 L529,42.36 L529.5,42.17 L530,41.99 L530.5,41.81 L531,41.64 L531.5,41.48 L532,41.33 L532.5,41.18 L533,41.04 L533.5,40.9 L534,40.77 L534.5,40.64 L535,40.52 L535.5,40.4 L536,40.28 L536.5,40.17 L537,40.07 L537.5,39.97 L538,39.87 L538.5,39.77 L539,39.68 L539.5,39.59 L540,39.51 L540.5,39.42 L541,39.34 L541.5,39.26 L542,39.17 L542.5,39.09 L543,39.02 L543.5,38.94 L544,38.86 L544.5,38.79 L545,38.72 L545.5,38.65 L546,38.59 L546.5,38.54 L547,38.49 L547.5,38.44 L548,38.41 L548.5,38.38 L549,38.36 L549.5,38.35 L550,38.34 L550.5,38.35 L551,38.36 L551.5,38.38 L552,38.41 L552.5,38.45 L553,38.49 L553.5,38.54 L554,38.59 L554.5,38.66 L555,38.72 L555.5,38.79 L556,38.86 L556.5,38.94 L557,39.02 L557.5,39.1 L558,39.18 L558.5,39.26 L559,39.34 L559.5,39.42 L560,39.51 L560.5,39.59 L561,39.68 L561.5,39.77 L562,39.86 L562.5,39.96 L563,40.06 L563.5,40.16 L564,40.27 L564.5,40.38 L565,40.5 L565.5,40.61 L566,40.74 L566.5,40.86 L567,40.99 L567.5,41.12 L568,41.25 L568.5,41.39 L569,41.53 L569.5,41.68 L570,41.83 L570.5,41.98 L571,42.14 L571.5,42.31 L572,42.49 L572.5,42.67 L573,42.86 L573.5,43.05 L574,43.25 L574.5,43.45 L575,43.66 L575.5,43.87 L576,44.08 L576.5,44.3 L577,44.51 L577.5,44.73 L578,44.94 L578.5,45.16 L579,45.38 L579.5,45.59 L580,45.81 L580.5,46.03 L581,46.25 L581.5,46.47 L582,46.7 L582.5,46.93 L583,47.16 L583.5,47.39 L584,47.63 L584.5,47.86 L585,48.09 L585.5,48.32 L586,48.54 L586.5,48.76 L587,48.97 L587.5,49.17 L588,49.37 L588.5,49.56 L589,49.73 L589.5,49.9 L590,50.07 L590.5,50.22 L591,50.37 L591.5,50.51 L592,50.65 L592.5,50.78 L593,50.91 L593.5,51.04 L594,51.16 L594.5,51.28 L595,51.39 L595.5,51.5 L596,51.61 L596.5,51.71 L597,51.8 L597.5,51.9 L598,51.98 L598.5,52.07 L599,52.14 L599.5,52.22 L600,52.29 L600.5,52.35 L601,52.42 L601.5,52.48 L602,52.54 L602.5,52.6 L603,52.65 L603.5,52.71 L604,52.76 L604.5,52.8 L605,52.84 L605.5,52.88 L606,52.91 L606.5,52.93 L607,52.95 L607.5,52.96 L608,52.96 L608.5,52.96 L609,52.95 L609.5,52.93 L610,52.9 L610.5,52.87 L611,52.83 L611.5,52.78 L612,52.73 L612.5,52.67 L613,52.61 L613.5,52.54 L614,52.47 L614.5,52.39 L615,52.31 L615.5,52.22 L616,52.13 L616.5,52.04 L617,51.94 L617.5,51.84 L618,51.74 L618.5,51.64 L619,51.54 L619.5,51.43 L620,51.32 L620.5,51.22 L621,51.11 L621.5,50.99 L622,50.88 L622.5,50.75 L623,50.63 L623.5,50.49 L624,50.35 L624.5,50.2 L625,50.04 L625.5,49.87 L626,49.7 L626.5,49.53 L627,49.35 L627.5,49.17 L628,48.98 L628.5,48.8 L629,48.61 L629.5,48.42 L630,48.24 L630.5,48.05 L631,47.87 L631.5,47.69 L632,47.51 L632.5,47.33 L633,47.15 L633.5,46.97 L634,46.79 L634.5,46.61 L635,46.43 L635.5,46.25 L636,46.07 L636.5,45.88 L637,45.7 L637.5,45.53 L638,45.35 L638.5,45.17 L639,45 L639.5,44.83 L640,44.66 L640.5,44.49 L641,44.33 L641.5,44.17 L642,44.01 L642.5,43.86 L643,43.71 L643.5,43.56 L644,43.41 L644.5,43.27 L645,43.13 L645.5,42.98 L646,42.85 L646.5,42.71 L647,42.57 L647.5,42.44 L648,42.31 L648.5,42.17 L649,42.05 L649.5,41.92 L650,41.79 L650.5,41.67 L651,41.55 L651.5,41.43 L652,41.31 L652.5,41.19 L653,41.07 L653.5,40.96 L654,40.85 L654.5,40.74 L655,40.63 L655.5,40.52 L656,40.41 L656.5,40.3 L657,40.2 L657.5,40.09 L658,39.99 L658.5,39.89 L659,39.79 L659.5,39.69 L660,39.59 L660.5,39.49 L661,39.39 L661.5,39.3 L662,39.2 L662.5,39.1 L663,39.01 L663.5,38.91 L664,38.81 L664.5,38.72 L665,38.62 L665.5,38.53 L666,38.43 L666.5,38.35 L667,38.26 L667.5,38.17 L668,38.09 L668.5,38.02 L669,37.95 L669.5,37.88 L670,37.81 L670.5,37.75 L671,37.69 L671.5,37.63 L672,37.57 L672.5,37.52 L673,37.47 L673.5,37.42 L674,37.37 L674.5,37.33 L675,37.3 L675.5,37.27 L676,37.25 L676.5,37.23 L677,37.22 L677.5,37.22 L678,37.22 L678.5,37.22 L679,37.22 L679.5,37.23 L680,37.23 L680.5,37.24 L681,37.25 L681.5,37.26 L682,37.28 L682.5,37.29 L683,37.3 L683.5,37.32 L684,37.33 L684.5,37.35 L685,37.37 L685.5,37.39 L686,37.41 L686.5,37.43 L687,37.46 L687.5,37.49 L688,37.52 L688.5,37.55 L689,37.59 L689.5,37.63 L690,37.67 L690.5,37.71 L691,37.76 L691.5,37.81 L692,37.86 L692.5,37.91 L693,37.96 L693.5,38.01 L694,38.06 L694.5,38.1 L695,38.13" stroke="#cf3636"/>
<path d="M56,90.03 L56.5,89.91 L57,89.76 L57.5,89.59 L58,89.41 L58.5,89.22 L59,89.03 L59.5,88.85 L60,88.67 L60.5,88.49 L61,88.33 L61.5,88.17 L62,88.02 L62.5,87.87 L63,87.73 L63.5,87.59 L64,87.46 L64.5,87.34 L65,87.22 L65.5,87.11 L66,87.02 L66.5,86.93 L67,86.87 L67.5,86.81 L68,86.78 L68.5,86.75 L69,86.74 L69.5,86.73 L70,86.73 L70.5,86.74 L71,86.75 L71.5,86.76 L72,86.78 L72.5,86.8 L73,86.82 L73.5,86.84 L74,86.86 L74.5,86.89 L75,86.91 L75.5,86.95 L76,86.98 L76.5,87.02 L77,87.06 L77.5,87.11 L78,87.16 L78.5,87.21 L79,87.27 L79.5,87.33 L80,87.39 L80.5,87.45 L81,87.52 L81.5,87.59 L82,87.66 L82.5,87.73 L83,87.81 L83.5,87.89 L84,87.98 L84.5,88.07 L85,88.16 L85.5,88.25 L86,88.34 L86.5,88.43 L87,88.52 L87.5,88.61 L88,88.71 L88.5,88.8 L89,88.9 L89.5,88.99 L90,89.09 L90.5,89.18 L91,89.28 L91.5,89.37 L92,89.45 L92.5,89.53 L93,89.59 L93.5,89.65 L94,89.69 L94.5,89.72 L95,89.74 L95.5,89.75 L96,89.74 L96.5,89.73 L97,89.7 L97.5,89.67 L98,89.63 L98.5,89.59 L99,89.54 L99.5,89.49 L100,89.43 L100.5,89.37 L101,89.3 L101.5,89.23 L102,89.16 L102.5,89.08 L103,89.01 L103.5,88.93 L104,88.85 L104.5,88.76 L105,88.68 L105.5,88.58 L106,88.49 L106.5,88.38 L107,88.27 L107.5,88.15 L108,88.02 L108.5,87.89 L109,87.75 L109.5,87.61 L110,87.47 L110.5,87.32 L111,87.17 L111.5,87.02 L112,86.87 L112.5,86.72 L113,86.57 L113.5,86.43 L114,86.28 L114.5,86.14 L115,86 L115.5,85.85 L116,85.71 L116.5,85.57 L117,85.42 L117.5,85.28 L118,85.13 L118.5,84.99 L119,84.85 L119.5,84.72 L120,84.59 L120.5,84.47 L121,84.36 L121.5,84.27 L122,84.18 L122.5,84.11 L123,84.04 L123.5,83.99 L124,83.94 L124.5,83.89 L125,83.85 L125.5,83.82 L126,83.79 L126.5,83.76 L127,83.73 L127.5,83.7 L128,83.68 L128.5,83.66 L129,83.65 L129.5,83.64 L130,83.64 L130.5,83.65 L131,83.67 L131.5,83.7 L132,83.74 L132.5,83.81 L133,83.89 L133.5,83.99 L134,84.11 L134.5,84.24 L135,84.38 L135.5,84.54 L136,84.71 L136.5,84.9 L137,85.1 L137.5,85.32 L138,85.56 L138.5,85.82 L139,86.11 L139.5,86.42 L140,86.76 L140.5,87.12 L141,87.5 L141.5,87.89 L142,88.29 L142.5,88.7 L143,89.1 L143.5,89.51 L144,89.92 L144.5,90.33 L145,90.75 L145.5,91.19 L146,91.64 L146.5,92.11 L147,92.61 L147.5,93.13 L148,93.69 L148.5,94.27 L149,94.88 L149.5,95.53 L150,96.2 L150.5,96.9 L151,97.63 L151.5,98.38 L152,99.15 L152.5,99.94 L153,100.75 L153.5,101.57 L154,102.4 L154.5,103.23 L155,104.08 L155.5,104.94 L156,105.81 L156.5,106.7 L157,107.61 L157.5,108.53 L158,109.46 L158.5,110.41 L159,111.37 L159.5,112.34 L160,113.32 L160.5,114.31 L161,115.31 L161.5,116.32 L162,117.34 L162.5,118.37 L163,119.43 L163.5,120.5 L164,121.59 L164.5,122.7 L165,123.84 L165.5,124.99 L166,126.16 L166.5,127.36 L167,128.57 L167.5,129.79 L168,131.04 L168.5,132.3 L169,133.57 L169.5,134.86 L170,136.17 L170.5,137.49 L171,138.83 L171.5,140.18 L172,141.54 L172.5,142.92 L173,144.3 L173.5,145.7 L174,147.1 L174.5,148.52 L175,149.94 L175.5,151.38 L176,152.83 L176.5,154.3 L177,155.78 L177.5,157.27 L178,158.78 L178.5,160.31 L179,161.85 L179.5,163.41 L180,164.98 L180.5,166.57 L181,168.17 L181.5,169.79 L182,171.41 L182.5,173.03 L183,174.66 L183.5,176.29 L184,177.92 L184.5,179.55 L185,181.17 L185.5,182.8 L186,184.41 L186.5,186.03 L187,187.63 L187.5,189.23 L188,190.82 L188.5,192.39 L189,193.96 L189.5,195.51 L190,197.04 L190.5,198.57 L191,200.08 L191.5,201.59 L192,203.08 L192.5,204.56 L193,206.03 L193.5,207.5 L194,208.95 L194.5,210.39 L195,211.82 L195.5,213.25 L196,214.66 L196.5,216.07 L197,217.48 L197.5,218.89 L198,220.3 L198.5,221.71 L199,223.14 L199.5,224.57 L200,226.02 L200.5,227.46 L201,228.91 L201.5,230.35 L202,231.77 L202.5,233.16 L203,234.51 L203.5,235.82 L204,237.08 L204.5,238.3 L205,239.47 L205.5,240.6 L206,241.7 L206.5,242.77 L207,243.81 L207.5,244.82 L208,245.81 L208.5,246.78 L209,247.72 L209.5,248.65 L210,249.55 L210.5,250.44 L211,251.3 L211.5,252.14 L212,252.95 L212.5,253.75 L213,254.52 L213.5,255.27 L214,256.01 L214.5,256.72 L215,257.41 L215.5,258.08 L216,258.72 L216.5,259.35 L217,259.95 L217.5,260.53 L218,261.08 L218.5,261.62 L219,262.13 L219.5,262.62 L220,263.09 L220.5,263.54 L221,263.98 L221.5,264.41 L222,264.82 L222.5,265.22 L223,265.61 L223.5,265.99 L224,266.36 L224.5,266.72 L225,267.07 L225.5,267.41 L226,267.75 L226.5,268.07 L227,268.39 L227.5,268.69 L228,268.99 L228.5,269.27 L229,269.55 L229.5,269.81 L230,270.06 L230.5,270.31 L231,270.54 L231.5,270.77 L232,270.98 L232.5,271.18 L233,271.37 L233.5,271.55 L234,271.72 L234.5,271.87 L235,272.01 L235.5,272.14 L236,272.26 L236.5,272.37 L237,272.48 L237.5,272.57 L238,272.66 L238.5,272.75 L239,272.82 L239.5,272.88 L240,272.94 L240.5,272.99 L241,273.02 L241.5,273.05 L242,273.06 L242.5,273.07 L243,273.07 L243.5,273.07 L244,273.05 L244.5,273.04 L245,273.01 L245.5,272.99 L246,272.96 L246.5,272.92 L247,272.88 L247.5,272.84 L248,272.8 L248.5,272.75 L249,272.69 L249.5,272.63 L250,272.55 L250.5,272.47 L251,272.37 L251.5,272.26 L252,272.14 L252.5,272 L253,271.85 L253.5,271.69 L254,271.52 L254.5,271.34 L255,271.14 L255.5,270.94 L256,270.72 L256.5,270.5 L257,270.26 L257.5,270.02 L258,269.76 L258.5,269.49 L259,269.22 L259.5,268.93 L260,268.64 L260.5,268.35 L261,268.05 L261.5,267.74 L262,267.44 L262.5,267.13 L263,266.82 L263.5,266.5 L264,266.19 L264.5,265.87 L265,265.56 L265.5,265.24 L266,264.92 L266.5,264.59 L267,264.26 L267.5,263.93 L268,263.6 L268.5,263.26 L269,262.92 L269.5,262.57 L270,262.23 L270.5,261.88 L271,261.53 L271.5,261.18 L272,260.83 L272.5,260.48 L273,260.14 L273.5,259.79 L274,259.44 L274.5,259.1 L275,258.75 L275.5,258.41 L276,258.07 L276.5,257.72 L277,257.38 L277.5,257.04 L278,256.69 L278.5,256.35 L279,256.01 L279.5,255.66 L280,255.32 L280.5,254.98 L281,254.64 L281.5,254.3 L282,253.96 L282.5,253.62 L283,253.28 L283.5,252.95 L284,252.62 L284.5,252.29 L285,251.96 L285.5,251.63 L286,251.31 L286.5,250.99 L287,250.67 L287.5,250.35 L288,250.04 L288.5,249.72 L289,249.41 L289.5,249.1 L290,248.79 L290.5,248.49 L291,248.19 L291.5,247.88 L292,247.58 L292.5,247.28 L293,246.98 L293.5,246.68 L294,246.38 L294.5,246.08 L295,245.78 L295.5,245.48 L296,245.17 L296.5,244.87 L297,244.57 L297.5,244.27 L298,243.97 L298.5,243.66 L299,243.36 L299.5,243.06 L300,242.75 L300.5,242.45 L301,242.14 L301.5,241.84 L302,241.53 L302.5,241.22 L303,240.9 L303.5,240.59 L304,240.27 L304.5,239.94 L305,239.62 L305.5,239.29 L306,238.95 L306.5,238.61 L307,238.27 L307.5,237.92 L308,237.57 L308.5,237.22 L309,236.86 L309.5,236.51 L310,236.16 L310.5,235.81 L311,235.47 L311.5,235.13 L312,234.79 L312.5,234.46 L313,234.14 L313.5,233.83 L314,233.52 L314.5,233.22 L315,232.93 L315.5,232.64 L316,232.36 L316.5,232.08 L317,231.81 L317.5,231.54 L318,231.28 L318.5,231.02 L319,230.76 L319.5,230.51 L320,230.26 L320.5,230 L321,229.76 L321.5,229.51 L322,229.26 L322.5,229.02 L323,228.77 L323.5,228.53 L324,228.28 L324.5,228.04 L325,227.79 L325.5,227.55 L326,227.3 L326.5,227.06 L327,226.81 L327.5,226.56 L328,226.32 L328.5,226.07 L329,225.83 L329.5,225.58 L330,225.34 L330.5,225.1 L331,224.86 L331.5,224.62 L332,224.37 L332.5,224.13 L333,223.88 L333.5,223.63 L334,223.37 L334.5,223.1 L335,222.83 L335.5,222.55 L336,222.26 L336.5,221.97 L337,221.66 L337.5,221.35 L338,221.02 L338.5,220.69 L339,220.35 L339.5,220.01 L340,219.65 L340.5,219.3 L341,218.93 L341.5,218.56 L342,218.19 L342.5,217.81 L343,217.43 L343.5,217.05 L344,216.67 L344.5,216.29 L345,215.91 L345.5,215.53 L346,215.15 L346.5,214.77 L347,214.39 L347.5,214.01 L348,213.64 L348.5,213.26 L349,212.88 L349.5,212.5 L350,212.12 L350.5,211.73 L351,211.34 L351.5,210.95 L352,210.56 L352.5,210.16 L353,209.75 L353.5,209.34 L354,208.92 L354.5,208.49 L355,208.06 L355.5,207.62 L356,207.17 L356.5,206.71 L357,206.24 L357.5,205.76 L358,205.28 L358.5,204.79 L359,204.29 L359.5,203.78 L360,203.26 L360.5,202.74 L361,202.21 L361.5,201.68 L362,201.14 L362.5,200.59 L363,200.04 L363.5,199.49 L364,198.93 L364.5,198.37 L365,197.81 L365.5,197.24 L366,196.67 L366.5,196.1 L367,195.53 L367.5,194.96 L368,194.39 L368.5,193.81 L369,193.24 L369.5,192.66 L370,192.08 L370.5,191.5 L371,190.91 L371.5,190.32 L372,189.72 L372.5,189.12 L373,188.52 L373.5,187.91 L374,187.3 L374.5,186.69 L375,186.07 L375.5,185.45 L376,184.83 L376.5,184.21 L377,183.59 L377.5,182.96 L378,182.34 L378.5,181.72 L379,181.09 L379.5,180.47 L380,179.85 L380.5,179.24 L381,178.62 L381.5,178.01 L382,177.4 L382.5,176.79 L383,176.19 L383.5,175.59 L384,174.99 L384.5,174.39 L385,173.8 L385.5,173.21 L386,172.62 L386.5,172.04 L387,171.45 L387.5,170.87 L388,170.28 L388.5,169.7 L389,169.12 L389.5,168.54 L390,167.97 L390.5,167.39 L391,166.81 L391.5,166.24 L392,165.67 L392.5,165.1 L393,164.53 L393.5,163.96 L394,163.39 L394.5,162.83 L395,162.27 L395.5,161.71 L396,161.16 L396.5,160.61 L397,160.07 L397.5,159.53 L398,159 L398.5,158.46 L399,157.93 L399.5,157.4 L400,156.86 L400.5,156.33 L401,155.79 L401.5,155.25 L402,154.71 L402.5,154.18 L403,153.65 L403.5,153.12 L404,152.59 L404.5,152.06 L405,151.54 L405.5,151.03 L406,150.52 L406.5,150.02 L407,149.52 L407.5,149.03 L408,148.54 L408.5,148.06 L409,147.58 L409.5,147.11 L410,146.65 L410.5,146.18 L411,145.72 L411.5,145.27 L412,144.82 L412.5,144.37 L413,143.92 L413.5,143.48 L414,143.04 L414.5,142.6 L415,142.16 L415.5,141.73 L416,141.29 L416.5,140.86 L417,140.43 L417.5,140 L418,139.56 L418.5,139.13 L419,138.7 L419.5,138.26 L420,137.82 L420.5,137.39 L421,136.95 L421.5,136.51 L422,136.08 L422.5,135.64 L423,135.21 L423.5,134.78 L424,134.35 L424.5,133.93 L425,133.51 L425.5,133.1 L426,132.69 L426.5,132.29 L427,131.89 L427.5,131.51 L428,131.13 L428.5,130.76 L429,130.4 L429.5,130.05 L430,129.71 L430.5,129.38 L431,129.06 L431.5,128.75 L432,128.45 L432.5,128.17 L433,127.89 L433.5,127.62 L434,127.36 L434.5,127.11 L435,126.86 L435.5,126.61 L436,126.37 L436.5,126.14 L437,125.9 L437.5,125.67 L438,125.44 L438.5,125.2 L439,124.97 L439.5,124.73 L440,124.5 L440.5,124.26 L441,124.03 L441.5,123.79 L442,123.56 L442.5,123.33 L443,123.1 L443.5,122.86 L444,122.63 L444.5,122.4 L445,122.17 L445.5,121.94 L446,121.7 L446.5,121.46 L447,121.22 L447.5,120.97 L448,120.72 L448.5,120.47 L449,120.21 L449.5,119.95 L450,119.68 L450.5,119.4 L451,119.12 L451.5,118.84 L452,118.55 L452.5,118.26 L453,117.96 L453.5,117.66 L454,117.35 L454.5,117.04 L455,116.73 L455.5,116.41 L456,116.08 L456.5,115.75 L457,115.41 L457.5,115.07 L458,114.72 L458.5,114.37 L459,114.01 L459.5,113.64 L460,113.27 L460.5,112.88 L461,112.49 L461.5,112.1 L462,111.69 L462.5,111.28 L463,110.85 L463.5,110.42 L464,109.99 L464.5,109.54 L465,109.09 L465.5,108.63 L466,108.17 L466.5,107.7 L467,107.23 L467.5,106.75 L468,106.26 L468.5,105.77 L469,105.27 L469.5,104.77 L470,104.26 L470.5,103.74 L471,103.22 L471.5,102.68 L472,102.14 L472.5,101.59 L473,101.03 L473.5,100.47 L474,99.9 L474.5,99.33 L475,98.77 L475.5,98.2 L476,97.64 L476.5,97.07 L477,96.51 L477.5,95.95 L478,95.39 L478.5,94.83 L479,94.27 L479.5,93.71 L480,93.15 L480.5,92.59 L481,92.04 L481.5,91.48 L482,90.92 L482.5,90.36 L483,89.81 L483.5,89.25 L484,88.7 L484.5,88.15 L485,87.6 L485.5,87.04 L486,86.49 L486.5,85.94 L487,85.38 L487.5,84.83 L488,84.26 L488.5,83.7 L489,83.13 L489.5,82.55 L490,81.97 L490.5,81.38 L491,80.78 L491.5,80.18 L492,79.57 L492.5,78.96 L493,78.34 L493.5,77.72 L494,77.1 L494.5,76.48 L495,75.86 L495.5,75.24 L496,74.62 L496.5,74 L497,73.38 L497.5,72.76 L498,72.14 L498.5,71.52 L499,70.9 L499.5,70.28 L500,69.67 L500.5,69.06 L501,68.46 L501.5,67.87 L502,67.29 L502.5,66.71 L503,66.15 L503.5,65.59 L504,65.04 L504.5,64.51 L505,63.98 L505.5,63.45 L506,62.94 L506.5,62.43 L507,61.93 L507.5,61.44 L508,60.95 L508.5,60.47 L509,60 L509.5,59.53 L510,59.07 L510.5,58.62 L511,58.18 L511.5,57.74 L512,57.31 L512.5,56.88 L513,56.46 L513.5,56.04 L514,55.63 L514.5,55.22 L515,54.81 L515.5,54.41 L516,54.01 L516.5,53.61 L517,53.21 L517.5,52.82 L518,52.42 L518.5,52.04 L519,51.66 L519.5,51.28 L520,50.91 L520.5,50.56 L521,50.21 L521.5,49.86 L522,49.53 L522.5,49.2 L523,48.88 L523.5,48.56 L524,48.26 L524.5,47.96 L525,47.67 L525.5,47.39 L526,47.12 L526.5,46.88 L527,46.65 L527.5,46.44 L528,46.25 L528.5,46.08 L529,45.92 L529.5,45.78 L530,45.65 L530.5,45.52 L531,45.41 L531.5,45.3 L532,45.2 L532.5,45.1 L533,45.01 L533.5,44.92 L534,44.83 L534.5,44.75 L535,44.67 L535.5,44.59 L536,44.52 L536.5,44.45 L537,44.38 L537.5,44.31 L538,44.25 L538.5,44.18 L539,44.12 L539.5,44.06 L540,44 L540.5,43.94 L541,43.88 L541.5,43.82 L542,43.76 L542.5,43.7 L543,43.64 L543.5,43.58 L544,43.52 L544.5,43.47 L545,43.42 L545.5,43.37 L546,43.32 L546.5,43.28 L547,43.24 L547.5,43.21 L548,43.18 L548.5,43.16 L549,43.15 L549.5,43.14 L550,43.14 L550.5,43.14 L551,43.16 L551.5,43.18 L552,43.21 L552.5,43.25 L553,43.3 L553.5,43.35 L554,43.41 L554.5,43.48 L555,43.55 L555.5,43.62 L556,43.7 L556.5,43.78 L557,43.87 L557.5,43.95 L558,44.04 L558.5,44.13 L559,44.23 L559.5,44.32 L560,44.42 L560.5,44.52 L561,44.62 L561.5,44.74 L562,44.85 L562.5,44.97 L563,45.1 L563.5,45.24 L564,45.37 L564.5,45.52 L565,45.66 L565.5,45.81 L566,45.96 L566.5,46.12 L567,46.27 L567.5,46.43 L568,46.58 L568.5,46.74 L569,46.89 L569.5,47.04 L570,47.2 L570.5,47.35 L571,47.5 L571.5,47.65 L572,47.8 L572.5,47.96 L573,48.11 L573.5,48.27 L574,48.42 L574.5,48.58 L575,48.74 L575.5,48.89 L576,49.06 L576.5,49.22 L577,49.38 L577.5,49.55 L578,49.72 L578.5,49.89 L579,50.07 L579.5,50.25 L580,50.43 L580.5,50.62 L581,50.82 L581.5,51.02 L582,51.23 L582.5,51.45 L583,51.67 L583.5,51.89 L584,52.12 L584.5,52.35 L585,52.57 L585.5,52.79 L586,53 L586.5,53.21 L587,53.41 L587.5,53.59 L588,53.77 L588.5,53.94 L589,54.09 L589.5,54.23 L590,54.35 L590.5,54.47 L591,54.59 L591.5,54.69 L592,54.79 L592.5,54.89 L593,54.98 L593.5,55.07 L594,55.15 L594.5,55.23 L595,55.31 L595.5,55.38 L596,55.45 L596.5,55.51 L597,55.57 L597.5,55.62 L598,55.66 L598.5,55.7 L599,55.73 L599.5,55.76 L600,55.78 L600.5,55.8 L601,55.81 L601.5,55.83 L602,55.84 L602.5,55.85 L603,55.85 L603.5,55.86 L604,55.87 L604.5,55.88 L605,55.88 L605.5,55.88 L606,55.89 L606.5,55.89 L607,55.89 L607.5,55.89 L608,55.88 L608.5,55.87 L609,55.85 L609.5,55.83 L610,55.81 L610.5,55.77 L611,55.73 L611.5,55.69 L612,55.63 L612.5,55.58 L613,55.51 L613.5,55.45 L614,55.37 L614.5,55.3 L615,55.22 L615.5,55.13 L616,55.05 L616.5,54.96 L617,54.87 L617.5,54.77 L618,54.68 L618.5,54.58 L619,54.49 L619.5,54.39 L620,54.29 L620.5,54.19 L621,54.09 L621.5,53.99 L622,53.89 L622.5,53.78 L623,53.67 L623.5,53.56 L624,53.44 L624.5,53.32 L625,53.19 L625.5,53.06 L626,52.93 L626.5,52.79 L627,52.65 L627.5,52.5 L628,52.36 L628.5,52.21 L629,52.07 L629.5,51.92 L630,51.78 L630.5,51.63 L631,51.49 L631.5,51.34 L632,51.2 L632.5,51.06 L633,50.92 L633.5,50.77 L634,50.63 L634.5,50.49 L635,50.34 L635.5,50.2 L636,50.06 L636.5,49.91 L637,49.77 L637.5,49.62 L638,49.48 L638.5,49.34 L639,49.2 L639.5,49.06 L640,48.93 L640.5,48.8 L641,48.67 L641.5,48.54 L642,48.41 L642.5,48.29 L643,48.17 L643.5,48.05 L644,47.93 L644.5,47.82 L645,47.7 L645.5,47.59 L646,47.48 L646.5,47.37 L647,47.26 L647.5,47.16 L648,47.05 L648.5,46.94 L649,46.84 L649.5,46.73 L650,46.62 L650.5,46.52 L651,46.41 L651.5,46.3 L652,46.2 L652.5,46.09 L653,45.98 L653.5,45.87 L654,45.76 L654.5,45.65 L655,45.53 L655.5,45.42 L656,45.31 L656.5,45.2 L657,45.09 L657.5,44.99 L658,44.88 L658.5,44.77 L659,44.67 L659.5,44.57 L660,44.47 L660.5,44.38 L661,44.29 L661.5,44.2 L662,44.11 L662.5,44.03 L663,43.94 L663.5,43.86 L664,43.78 L664.5,43.71 L665,43.63 L665.5,43.56 L666,43.49 L666.5,43.42 L667,43.35 L667.5,43.29 L668,43.23 L668.5,43.17 L669,43.11 L669.5,43.06 L670,43.01 L670.5,42.96 L671,42.91 L671.5,42.86 L672,42.81 L672.5,42.77 L673,42.72 L673.5,42.68 L674,42.65 L674.5,42.61 L675,42.59 L675.5,42.56 L676,42.54 L676.5,42.53 L677,42.52 L677.5,42.52 L678,42.52 L678.5,42.52 L679,42.52 L679.5,42.53 L680,42.54 L680.5,42.55 L681,42.56 L681.5,42.57 L682,42.59 L682.5,42.6 L683,42.61 L683.5,42.63 L684,42.64 L684.5,42.66 L685,42.67 L685.5,42.69 L686,42.7 L686.5,42.71 L687,42.73 L687.5,42.74 L688,42.76 L688.5,42.77 L689,42.79 L689.5,42.8 L690,42.82 L690.5,42.84 L691,42.85 L691.5,42.87 L692,42.89 L692.5,42.91 L693,42.92 L693.5,42.94 L694,42.95 L694.5,42.97 L695,42.98" stroke="#e040e0"/>
<path d="M56,96.13 L56.5,96.01 L57,95.85 L57.5,95.68 L58,95.49 L58.5,95.3 L59,95.1 L59.5,94.91 L60,94.72 L60.5,94.53 L61,94.35 L61.5,94.18 L62,94.01 L62.5,93.84 L63,93.67 L63.5,93.51 L64,93.35 L64.5,93.2 L65,93.05 L65.5,92.92 L66,92.8 L66.5,92.7 L67,92.61 L67.5,92.54 L68,92.49 L68.5,92.45 L69,92.43 L69.5,92.42 L70,92.41 L70.5,92.4 L71,92.4 L71.5,92.4 L72,92.4 L72.5,92.4 L73,92.4 L73.5,92.4 L74,92.41 L74.5,92.41 L75,92.42 L75.5,92.43 L76,92.44 L76.5,92.46 L77,92.49 L77.5,92.52 L78,92.55 L78.5,92.59 L79,92.64 L79.5,92.68 L80,92.73 L80.5,92.78 L81,92.84 L81.5,92.89 L82,92.96 L82.5,93.02 L83,93.09 L83.5,93.16 L84,93.24 L84.5,93.32 L85,93.41 L85.5,93.49 L86,93.57 L86.5,93.66 L87,93.74 L87.5,93.82 L88,93.89 L88.5,93.97 L89,94.04 L89.5,94.12 L90,94.19 L90.5,94.26 L91,94.33 L91.5,94.4 L92,94.46 L92.5,94.51 L93,94.56 L93.5,94.59 L94,94.62 L94.5,94.64 L95,94.65 L95.5,94.64 L96,94.63 L96.5,94.61 L97,94.57 L97.5,94.53 L98,94.48 L98.5,94.42 L99,94.35 L99.5,94.28 L100,94.21 L100.5,94.13 L101,94.04 L101.5,93.95 L102,93.86 L102.5,93.77 L103,93.68 L103.5,93.58 L104,93.49 L104.5,93.39 L105,93.29 L105.5,93.19 L106,93.08 L106.5,92.97 L107,92.85 L107.5,92.74 L108,92.61 L108.5,92.48 L109,92.35 L109.5,92.22 L110,92.08 L110.5,91.94 L111,91.8 L111.5,91.66 L112,91.52 L112.5,91.38 L113,91.25 L113.5,91.11 L114,90.97 L114.5,90.83 L115,90.7 L115.5,90.56 L116,90.42 L116.5,90.28 L117,90.14 L117.5,90 L118,89.87 L118.5,89.73 L119,89.59 L119.5,89.46 L120,89.33 L120.5,89.22 L121,89.1 L121.5,89 L122,88.9 L122.5,88.81 L123,88.73 L123.5,88.65 L124,88.58 L124.5,88.52 L125,88.46 L125.5,88.4 L126,88.34 L126.5,88.29 L127,88.24 L127.5,88.19 L128,88.15 L128.5,88.12 L129,88.09 L129.5,88.07 L130,88.06 L130.5,88.05 L131,88.06 L131.5,88.08 L132,88.11 L132.5,88.16 L133,88.22 L133.5,88.3 L134,88.38 L134.5,88.48 L135,88.6 L135.5,88.72 L136,88.85 L136.5,88.99 L137,89.14 L137.5,89.31 L138,89.5 L138.5,89.7 L139,89.92 L139.5,90.17 L140,90.43 L140.5,90.72 L141,91.02 L141.5,91.34 L142,91.67 L142.5,92.02 L143,92.37 L143.5,92.74 L144,93.12 L144.5,93.52 L145,93.93 L145.5,94.37 L146,94.82 L146.5,95.31 L147,95.82 L147.5,96.36 L148,96.93 L148.5,97.53 L149,98.17 L149.5,98.83 L150,99.51 L150.5,100.23 L151,100.97 L151.5,101.73 L152,102.51 L152.5,103.31 L153,104.12 L153.5,104.95 L154,105.79 L154.5,106.64 L155,107.51 L155.5,108.38 L156,109.27 L156.5,110.17 L157,111.09 L157.5,112.02 L158,112.96 L158.5,113.92 L159,114.88 L159.5,115.86 L160,116.85 L160.5,117.84 L161,118.85 L161.5,119.86 L162,120.88 L162.5,121.92 L163,122.98 L163.5,124.05 L164,125.13 L164.5,126.23 L165,127.35 L165.5,128.48 L166,129.63 L166.5,130.8 L167,131.99 L167.5,133.19 L168,134.41 L168.5,135.65 L169,136.9 L169.5,138.17 L170,139.46 L170.5,140.76 L171,142.07 L171.5,143.39 L172,144.72 L172.5,146.05 L173,147.4 L173.5,148.75 L174,150.11 L174.5,151.49 L175,152.87 L175.5,154.28 L176,155.7 L176.5,157.14 L177,158.6 L177.5,160.07 L178,161.57 L178.5,163.08 L179,164.61 L179.5,166.15 L180,167.7 L180.5,169.27 L181,170.84 L181.5,172.41 L182,173.99 L182.5,175.57 L183,177.15 L183.5,178.74 L184,180.32 L184.5,181.9 L185,183.48 L185.5,185.06 L186,186.64 L186.5,188.21 L187,189.78 L187.5,191.34 L188,192.9 L188.5,194.45 L189,195.99 L189.5,197.53 L190,199.05 L190.5,200.57 L191,202.07 L191.5,203.57 L192,205.06 L192.5,206.55 L193,208.02 L193.5,209.49 L194,210.95 L194.5,212.4 L195,213.85 L195.5,215.28 L196,216.71 L196.5,218.14 L197,219.57 L197.5,220.99 L198,222.41 L198.5,223.83 L199,225.26 L199.5,226.68 L200,228.1 L200.5,229.51 L201,230.9 L201.5,232.28 L202,233.63 L202.5,234.95 L203,236.24 L203.5,237.49 L204,238.71 L204.5,239.88 L205,241.03 L205.5,242.16 L206,243.25 L206.5,244.33 L207,245.39 L207.5,246.43 L208,247.45 L208.5,248.45 L209,249.44 L209.5,250.41 L210,251.35 L210.5,252.28 L211,253.19 L211.5,254.07 L212,254.94 L212.5,255.78 L213,256.6 L213.5,257.39 L214,258.17 L214.5,258.92 L215,259.64 L215.5,260.35 L216,261.04 L216.5,261.7 L217,262.34 L217.5,262.96 L218,263.56 L218.5,264.13 L219,264.69 L219.5,265.22 L220,265.74 L220.5,266.23 L221,266.71 L221.5,267.18 L222,267.63 L222.5,268.07 L223,268.49 L223.5,268.9 L224,269.3 L224.5,269.69 L225,270.07 L225.5,270.44 L226,270.8 L226.5,271.15 L227,271.49 L227.5,271.81 L228,272.13 L228.5,272.43 L229,272.71 L229.5,272.98 L230,273.24 L230.5,273.49 L231,273.72 L231.5,273.94 L232,274.15 L232.5,274.34 L233,274.53 L233.5,274.7 L234,274.86 L234.5,275 L235,275.14 L235.5,275.26 L236,275.37 L236.5,275.48 L237,275.58 L237.5,275.67 L238,275.76 L238.5,275.84 L239,275.91 L239.5,275.97 L240,276.02 L240.5,276.06 L241,276.09 L241.5,276.11 L242,276.12 L242.5,276.12 L243,276.11 L243.5,276.09 L244,276.06 L244.5,276.02 L245,275.98 L245.5,275.94 L246,275.89 L246.5,275.83 L247,275.78 L247.5,275.72 L248,275.65 L248.5,275.59 L249,275.51 L249.5,275.43 L250,275.34 L250.5,275.24 L251,275.12 L251.5,274.99 L252,274.85 L252.5,274.7 L253,274.53 L253.5,274.35 L254,274.17 L254.5,273.97 L255,273.77 L255.5,273.56 L256,273.33 L256.5,273.1 L257,272.87 L257.5,272.62 L258,272.36 L258.5,272.09 L259,271.82 L259.5,271.53 L260,271.24 L260.5,270.95 L261,270.65 L261.5,270.34 L262,270.04 L262.5,269.73 L263,269.42 L263.5,269.1 L264,268.79 L264.5,268.47 L265,268.16 L265.5,267.84 L266,267.52 L266.5,267.19 L267,266.86 L267.5,266.53 L268,266.2 L268.5,265.86 L269,265.52 L269.5,265.17 L270,264.83 L270.5,264.48 L271,264.13 L271.5,263.78 L272,263.43 L272.5,263.08 L273,262.74 L273.5,262.39 L274,262.04 L274.5,261.7 L275,261.35 L275.5,261.01 L276,260.67 L276.5,260.32 L277,259.98 L277.5,259.64 L278,259.29 L278.5,258.95 L279,258.61 L279.5,258.26 L280,257.92 L280.5,257.58 L281,257.24 L281.5,256.9 L282,256.56 L282.5,256.22 L283,255.88 L283.5,255.55 L284,255.22 L284.5,254.89 L285,254.56 L285.5,254.23 L286,253.91 L286.5,253.59 L287,253.27 L287.5,252.95 L288,252.63 L288.5,252.32 L289,252 L289.5,251.69 L290,251.37 L290.5,251.06 L291,250.75 L291.5,250.43 L292,250.12 L292.5,249.8 L293,249.49 L293.5,249.17 L294,248.85 L294.5,248.54 L295,248.22 L295.5,247.9 L296,247.58 L296.5,247.26 L297,246.95 L297.5,246.63 L298,246.31 L298.5,245.99 L299,245.67 L299.5,245.35 L300,245.03 L300.5,244.71 L301,244.39 L301.5,244.07 L302,243.74 L302.5,243.42 L303,243.09 L303.5,242.75 L304,242.42 L304.5,242.08 L305,241.74 L305.5,241.39 L306,241.04 L306.5,240.68 L307,240.32 L307.5,239.96 L308,239.59 L308.5,239.22 L309,238.86 L309.5,238.49 L310,238.12 L310.5,237.75 L311,237.39 L311.5,237.04 L312,236.69 L312.5,236.34 L313,236 L313.5,235.67 L314,235.35 L314.5,235.03 L315,234.72 L315.5,234.42 L316,234.12 L316.5,233.83 L317,233.54 L317.5,233.25 L318,232.97 L318.5,232.69 L319,232.42 L319.5,232.15 L320,231.88 L320.5,231.61 L321,231.34 L321.5,231.07 L322,230.81 L322.5,230.55 L323,230.28 L323.5,230.02 L324,229.76 L324.5,229.5 L325,229.23 L325.5,228.97 L326,228.71 L326.5,228.44 L327,228.18 L327.5,227.91 L328,227.65 L328.5,227.39 L329,227.12 L329.5,226.86 L330,226.6 L330.5,226.34 L331,226.08 L331.5,225.82 L332,225.56 L332.5,225.3 L333,225.03 L333.5,224.76 L334,224.48 L334.5,224.2 L335,223.91 L335.5,223.61 L336,223.31 L336.5,222.99 L337,222.67 L337.5,222.34 L338,222 L338.5,221.65 L339,221.3 L339.5,220.94 L340,220.57 L340.5,220.21 L341,219.83 L341.5,219.46 L342,219.08 L342.5,218.7 L343,218.32 L343.5,217.94 L344,217.56 L344.5,217.17 L345,216.79 L345.5,216.41 L346,216.03 L346.5,215.65 L347,215.27 L347.5,214.89 L348,214.51 L348.5,214.13 L349,213.75 L349.5,213.37 L350,212.98 L350.5,212.6 L351,212.21 L351.5,211.81 L352,211.42 L352.5,211.01 L353,210.61 L353.5,210.19 L354,209.77 L354.5,209.34 L355,208.91 L355.5,208.46 L356,208.01 L356.5,207.55 L357,207.08 L357.5,206.6 L358,206.12 L358.5,205.62 L359,205.12 L359.5,204.61 L360,204.09 L360.5,203.57 L361,203.04 L361.5,202.5 L362,201.96 L362.5,201.42 L363,200.87 L363.5,200.31 L364,199.75 L364.5,199.19 L365,198.62 L365.5,198.06 L366,197.49 L366.5,196.92 L367,196.34 L367.5,195.77 L368,195.2 L368.5,194.62 L369,194.05 L369.5,193.47 L370,192.89 L370.5,192.31 L371,191.72 L371.5,191.14 L372,190.55 L372.5,189.95 L373,189.35 L373.5,188.75 L374,188.14 L374.5,187.53 L375,186.92 L375.5,186.31 L376,185.7 L376.5,185.08 L377,184.46 L377.5,183.84 L378,183.23 L378.5,182.61 L379,181.99 L379.5,181.37 L380,180.76 L380.5,180.15 L381,179.54 L381.5,178.93 L382,178.33 L382.5,177.72 L383,177.13 L383.5,176.53 L384,175.94 L384.5,175.35 L385,174.76 L385.5,174.18 L386,173.59 L386.5,173.01 L387,172.43 L387.5,171.85 L388,171.28 L388.5,170.7 L389,170.13 L389.5,169.55 L390,168.98 L390.5,168.41 L391,167.84 L391.5,167.27 L392,166.7 L392.5,166.14 L393,165.57 L393.5,165.01 L394,164.45 L394.5,163.89 L395,163.33 L395.5,162.77 L396,162.22 L396.5,161.67 L397,161.12 L397.5,160.57 L398,160.03 L398.5,159.5 L399,158.97 L399.5,158.44 L400,157.92 L400.5,157.41 L401,156.89 L401.5,156.39 L402,155.88 L402.5,155.38 L403,154.88 L403.5,154.38 L404,153.89 L404.5,153.4 L405,152.91 L405.5,152.43 L406,151.94 L406.5,151.46 L407,150.99 L407.5,150.51 L408,150.04 L408.5,149.57 L409,149.1 L409.5,148.64 L410,148.18 L410.5,147.72 L411,147.26 L411.5,146.81 L412,146.36 L412.5,145.91 L413,145.46 L413.5,145.01 L414,144.57 L414.5,144.13 L415,143.69 L415.5,143.25 L416,142.81 L416.5,142.37 L417,141.93 L417.5,141.49 L418,141.05 L418.5,140.61 L419,140.16 L419.5,139.71 L420,139.26 L420.5,138.8 L421,138.35 L421.5,137.89 L422,137.43 L422.5,136.97 L423,136.52 L423.5,136.06 L424,135.61 L424.5,135.16 L425,134.72 L425.5,134.28 L426,133.84 L426.5,133.41 L427,132.99 L427.5,132.57 L428,132.17 L428.5,131.77 L429,131.38 L429.5,131 L430,130.64 L430.5,130.28 L431,129.94 L431.5,129.61 L432,129.3 L432.5,129 L433,128.71 L433.5,128.43 L434,128.17 L434.5,127.92 L435,127.68 L435.5,127.44 L436,127.22 L436.5,127 L437,126.78 L437.5,126.57 L438,126.35 L438.5,126.14 L439,125.93 L439.5,125.71 L440,125.49 L440.5,125.27 L441,125.05 L441.5,124.83 L442,124.61 L442.5,124.39 L443,124.17 L443.5,123.95 L444,123.73 L444.5,123.51 L445,123.28 L445.5,123.06 L446,122.83 L446.5,122.6 L447,122.37 L447.5,122.13 L448,121.89 L448.5,121.64 L449,121.39 L449.5,121.14 L450,120.88 L450.5,120.61 L451,120.34 L451.5,120.07 L452,119.79 L452.5,119.51 L453,119.22 L453.5,118.93 L454,118.63 L454.5,118.33 L455,118.03 L455.5,117.72 L456,117.4 L456.5,117.08 L457,116.75 L457.5,116.42 L458,116.08 L458.5,115.74 L459,115.39 L459.5,115.03 L460,114.66 L460.5,114.29 L461,113.91 L461.5,113.52 L462,113.13 L462.5,112.72 L463,112.31 L463.5,111.89 L464,111.46 L464.5,111.02 L465,110.58 L465.5,110.13 L466,109.68 L466.5,109.22 L467,108.75 L467.5,108.28 L468,107.81 L468.5,107.33 L469,106.85 L469.5,106.36 L470,105.87 L470.5,105.38 L471,104.87 L471.5,104.36 L472,103.85 L472.5,103.32 L473,102.79 L473.5,102.26 L474,101.72 L474.5,101.17 L475,100.62 L475.5,100.07 L476,99.51 L476.5,98.96 L477,98.4 L477.5,97.84 L478,97.27 L478.5,96.71 L479,96.14 L479.5,95.57 L480,94.99 L480.5,94.42 L481,93.84 L481.5,93.26 L482,92.68 L482.5,92.1 L483,91.53 L483.5,90.96 L484,90.39 L484.5,89.83 L485,89.27 L485.5,88.71 L486,88.16 L486.5,87.62 L487,87.07 L487.5,86.53 L488,85.99 L488.5,85.44 L489,84.9 L489.5,84.34 L490,83.79 L490.5,83.22 L491,82.65 L491.5,82.07 L492,81.49 L492.5,80.89 L493,80.29 L493.5,79.67 L494,79.06 L494.5,78.43 L495,77.81 L495.5,77.17 L496,76.54 L496.5,75.9 L497,75.27 L497.5,74.63 L498,73.98 L498.5,73.34 L499,72.69 L499.5,72.04 L500,71.39 L500.5,70.73 L501,70.09 L501.5,69.44 L502,68.81 L502.5,68.19 L503,67.58 L503.5,66.98 L504,66.41 L504.5,65.85 L505,65.3 L505.5,64.77 L506,64.25 L506.5,63.74 L507,63.25 L507.5,62.76 L508,62.28 L508.5,61.81 L509,61.34 L509.5,60.88 L510,60.42 L510.5,59.96 L511,59.51 L511.5,59.06 L512,58.62 L512.5,58.17 L513,57.73 L513.5,57.3 L514,56.87 L514.5,56.45 L515,56.03 L515.5,55.61 L516,55.21 L516.5,54.81 L517,54.42 L517.5,54.03 L518,53.65 L518.5,53.28 L519,52.92 L519.5,52.56 L520,52.21 L520.5,51.86 L521,51.52 L521.5,51.19 L522,50.85 L522.5,50.53 L523,50.2 L523.5,49.88 L524,49.56 L524.5,49.24 L525,48.93 L525.5,48.62 L526,48.32 L526.5,48.03 L527,47.76 L527.5,47.5 L528,47.27 L528.5,47.05 L529,46.86 L529.5,46.68 L530,46.52 L530.5,46.37 L531,46.23 L531.5,46.1 L532,45.98 L532.5,45.86 L533,45.75 L533.5,45.64 L534,45.54 L534.5,45.44 L535,45.35 L535.5,45.26 L536,45.18 L536.5,45.1 L537,45.02 L537.5,44.94 L538,44.87 L538.5,44.8 L539,44.73 L539.5,44.67 L540,44.6 L540.5,44.54 L541,44.48 L541.5,44.41 L542,44.35 L542.5,44.29 L543,44.23 L543.5,44.17 L544,44.12 L544.5,44.06 L545,44.01 L545.5,43.96 L546,43.92 L546.5,43.88 L547,43.84 L547.5,43.81 L548,43.78 L548.5,43.76 L549,43.74 L549.5,43.74 L550,43.74 L550.5,43.74 L551,43.76 L551.5,43.78 L552,43.82 L552.5,43.85 L553,43.9 L553.5,43.95 L554,44.01 L554.5,44.08 L555,44.15 L555.5,44.23 L556,44.3 L556.5,44.39 L557,44.47 L557.5,44.56 L558,44.64 L558.5,44.73 L559,44.83 L559.5,44.92 L560,45.01 L560.5,45.11 L561,45.22 L561.5,45.32 L562,45.44 L562.5,45.56 L563,45.68 L563.5,45.81 L564,45.94 L564.5,46.08 L565,46.22 L565.5,46.36 L566,46.5 L566.5,46.65 L567,46.8 L567.5,46.95 L568,47.1 L568.5,47.25 L569,47.4 L569.5,47.55 L570,47.7 L570.5,47.85 L571,48 L571.5,48.15 L572,48.3 L572.5,48.45 L573,48.6 L573.5,48.76 L574,48.91 L574.5,49.07 L575,49.23 L575.5,49.39 L576,49.55 L576.5,49.71 L577,49.88 L577.5,50.05 L578,50.22 L578.5,50.39 L579,50.56 L579.5,50.74 L580,50.93 L580.5,51.12 L581,51.32 L581.5,51.52 L582,51.73 L582.5,51.95 L583,52.17 L583.5,52.39 L584,52.62 L584.5,52.85 L585,53.07 L585.5,53.29 L586,53.5 L586.5,53.71 L587,53.91 L587.5,54.09 L588,54.27 L588.5,54.44 L589,54.59 L589.5,54.73 L590,54.85 L590.5,54.97 L591,55.09 L591.5,55.19 L592,55.29 L592.5,55.39 L593,55.48 L593.5,55.57 L594,55.65 L594.5,55.73 L595,55.81 L595.5,55.88 L596,55.95 L596.5,56.01 L597,56.07 L597.5,56.12 L598,56.16 L598.5,56.2 L599,56.23 L599.5,56.26 L600,56.28 L600.5,56.3 L601,56.31 L601.5,56.33 L602,56.34 L602.5,56.35 L603,56.35 L603.5,56.36 L604,56.37 L604.5,56.38 L605,56.38 L605.5,56.38 L606,56.39 L606.5,56.39 L607,56.39 L607.5,56.39 L608,56.38 L608.5,56.37 L609,56.35 L609.5,56.33 L610,56.31 L610.5,56.27 L611,56.23 L611.5,56.19 L612,56.13 L612.5,56.08 L613,56.01 L613.5,55.95 L614,55.87 L614.5,55.8 L615,55.72 L615.5,55.63 L616,55.55 L616.5,55.46 L617,55.37 L617.5,55.27 L618,55.18 L618.5,55.08 L619,54.99 L619.5,54.89 L620,54.79 L620.5,54.69 L621,54.59 L621.5,54.49 L622,54.39 L622.5,54.28 L623,54.17 L623.5,54.06 L624,53.94 L624.5,53.82 L625,53.69 L625.5,53.56 L626,53.43 L626.5,53.29 L627,53.15 L627.5,53 L628,52.86 L628.5,52.71 L629,52.57 L629.5,52.42 L630,52.28 L630.5,52.13 L631,51.99 L631.5,51.84 L632,51.7 L632.5,51.56 L633,51.42 L633.5,51.27 L634,51.13 L634.5,50.99 L635,50.84 L635.5,50.7 L636,50.56 L636.5,50.41 L637,50.27 L637.5,50.12 L638,49.98 L638.5,49.84 L639,49.7 L639.5,49.56 L640,49.43 L640.5,49.3 L641,49.17 L641.5,49.04 L642,48.91 L642.5,48.79 L643,48.67 L643.5,48.55 L644,48.43 L644.5,48.32 L645,48.2 L645.5,48.09 L646,47.98 L646.5,47.87 L647,47.76 L647.5,47.66 L648,47.55 L648.5,47.44 L649,47.34 L649.5,47.23 L650,47.12 L650.5,47.02 L651,46.91 L651.5,46.8 L652,46.7 L652.5,46.59 L653,46.48 L653.5,46.37 L654,46.26 L654.5,46.15 L655,46.03 L655.5,45.92 L656,45.81 L656.5,45.7 L657,45.59 L657.5,45.49 L658,45.38 L658.5,45.27 L659,45.17 L659.5,45.07 L660,44.97 L660.5,44.88 L661,44.79 L661.5,44.7 L662,44.61 L662.5,44.53 L663,44.44 L663.5,44.36 L664,44.28 L664.5,44.21 L665,44.13 L665.5,44.06 L666,43.99 L666.5,43.92 L667,43.85 L667.5,43.79 L668,43.73 L668.5,43.67 L669,43.61 L669.5,43.56 L670,43.51 L670.5,43.46 L671,43.41 L671.5,43.36 L672,43.31 L672.5,43.27 L673,43.22 L673.5,43.18 L674,43.15 L674.5,43.11 L675,43.09 L675.5,43.06 L676,43.04 L676.5,43.03 L677,43.02 L677.5,43.02 L678,43.02 L678.5,43.02 L679,43.02 L679.5,43.03 L680,43.04 L680.5,43.05 L681,43.06 L681.5,43.07 L682,43.09 L682.5,43.1 L683,43.11 L683.5,43.13 L684,43.14 L684.5,43.16 L685,43.17 L685.5,43.19 L686,43.2 L686.5,43.21 L687,43.23 L687.5,43.24 L688,43.26 L688.5,43.27 L689,43.29 L689.5,43.3 L690,43.32 L690.5,43.34 L691,43.35 L691.5,43.37 L692,43.39 L692.5,43.41 L693,43.42 L693.5,43.44 L694,43.45 L694.5,43.47 L695,43.48" stroke="#36e2e2"/>
<path d="M56,106.43 L56.5,106.31 L57,106.15 L57.5,105.98 L58,105.79 L58.5,105.6 L59,105.4 L59.5,105.21 L60,105.02 L60.5,104.83 L61,104.66 L61.5,104.48 L62,104.31 L62.5,104.14 L63,103.98 L63.5,103.82 L64,103.66 L64.5,103.51 L65,103.37 L65.5,103.24 L66,103.12 L66.5,103.01 L67,102.92 L67.5,102.85 L68,102.79 L68.5,102.74 L69,102.71 L69.5,102.69 L70,102.67 L70.5,102.65 L71,102.64 L71.5,102.63 L72,102.63 L72.5,102.62 L73,102.62 L73.5,102.61 L74,102.61 L74.5,102.61 L75,102.62 L75.5,102.63 L76,102.64 L76.5,102.66 L77,102.69 L77.5,102.72 L78,102.75 L78.5,102.79 L79,102.84 L79.5,102.88 L80,102.93 L80.5,102.98 L81,103.04 L81.5,103.09 L82,103.16 L82.5,103.22 L83,103.29 L83.5,103.36 L84,103.44 L84.5,103.52 L85,103.61 L85.5,103.69 L86,103.77 L86.5,103.86 L87,103.94 L87.5,104.02 L88,104.09 L88.5,104.17 L89,104.24 L89.5,104.32 L90,104.39 L90.5,104.46 L91,104.53 L91.5,104.6 L92,104.66 L92.5,104.71 L93,104.76 L93.5,104.79 L94,104.82 L94.5,104.84 L95,104.84 L95.5,104.84 L96,104.82 L96.5,104.8 L97,104.76 L97.5,104.71 L98,104.65 L98.5,104.59 L99,104.51 L99.5,104.43 L100,104.35 L100.5,104.25 L101,104.16 L101.5,104.06 L102,103.95 L102.5,103.85 L103,103.74 L103.5,103.63 L104,103.51 L104.5,103.4 L105,103.28 L105.5,103.16 L106,103.03 L106.5,102.9 L107,102.75 L107.5,102.61 L108,102.45 L108.5,102.29 L109,102.13 L109.5,101.96 L110,101.78 L110.5,101.61 L111,101.43 L111.5,101.25 L112,101.07 L112.5,100.89 L113,100.71 L113.5,100.53 L114,100.35 L114.5,100.17 L115,100 L115.5,99.82 L116,99.64 L116.5,99.46 L117,99.28 L117.5,99.09 L118,98.91 L118.5,98.73 L119,98.55 L119.5,98.38 L120,98.21 L120.5,98.04 L121,97.88 L121.5,97.73 L122,97.59 L122.5,97.45 L123,97.33 L123.5,97.2 L124,97.09 L124.5,96.97 L125,96.86 L125.5,96.75 L126,96.65 L126.5,96.55 L127,96.46 L127.5,96.38 L128,96.3 L128.5,96.23 L129,96.17 L129.5,96.13 L130,96.09 L130.5,96.07 L131,96.06 L131.5,96.07 L132,96.08 L132.5,96.11 L133,96.15 L133.5,96.2 L134,96.26 L134.5,96.33 L135,96.4 L135.5,96.49 L136,96.58 L136.5,96.69 L137,96.8 L137.5,96.93 L138,97.08 L138.5,97.24 L139,97.43 L139.5,97.64 L140,97.87 L140.5,98.13 L141,98.39 L141.5,98.68 L142,98.97 L142.5,99.28 L143,99.6 L143.5,99.92 L144,100.27 L144.5,100.62 L145,101 L145.5,101.4 L146,101.83 L146.5,102.28 L147,102.77 L147.5,103.3 L148,103.86 L148.5,104.45 L149,105.07 L149.5,105.71 L150,106.38 L150.5,107.08 L151,107.79 L151.5,108.52 L152,109.27 L152.5,110.03 L153,110.82 L153.5,111.62 L154,112.43 L154.5,113.26 L155,114.1 L155.5,114.96 L156,115.83 L156.5,116.72 L157,117.61 L157.5,118.52 L158,119.43 L158.5,120.35 L159,121.29 L159.5,122.23 L160,123.18 L160.5,124.15 L161,125.12 L161.5,126.1 L162,127.1 L162.5,128.1 L163,129.11 L163.5,130.13 L164,131.16 L164.5,132.2 L165,133.25 L165.5,134.31 L166,135.39 L166.5,136.48 L167,137.59 L167.5,138.72 L168,139.87 L168.5,141.03 L169,142.22 L169.5,143.42 L170,144.64 L170.5,145.87 L171,147.11 L171.5,148.35 L172,149.59 L172.5,150.84 L173,152.09 L173.5,153.35 L174,154.62 L174.5,155.9 L175,157.2 L175.5,158.53 L176,159.87 L176.5,161.25 L177,162.65 L177.5,164.08 L178,165.54 L178.5,167.01 L179,168.49 L179.5,169.98 L180,171.48 L180.5,172.98 L181,174.49 L181.5,175.99 L182,177.49 L182.5,178.99 L183,180.49 L183.5,181.99 L184,183.49 L184.5,184.99 L185,186.5 L185.5,188 L186,189.5 L186.5,191.01 L187,192.51 L187.5,194.02 L188,195.52 L188.5,197.02 L189,198.53 L189.5,200.02 L190,201.52 L190.5,203.01 L191,204.49 L191.5,205.97 L192,207.45 L192.5,208.92 L193,210.38 L193.5,211.84 L194,213.3 L194.5,214.75 L195,216.19 L195.5,217.63 L196,219.07 L196.5,220.5 L197,221.93 L197.5,223.35 L198,224.78 L198.5,226.19 L199,227.6 L199.5,229 L200,230.38 L200.5,231.73 L201,233.06 L201.5,234.36 L202,235.63 L202.5,236.87 L203,238.07 L203.5,239.25 L204,240.4 L204.5,241.53 L205,242.65 L205.5,243.75 L206,244.84 L206.5,245.92 L207,246.99 L207.5,248.04 L208,249.09 L208.5,250.12 L209,251.13 L209.5,252.13 L210,253.11 L210.5,254.07 L211,255.01 L211.5,255.93 L212,256.83 L212.5,257.71 L213,258.56 L213.5,259.38 L214,260.18 L214.5,260.96 L215,261.71 L215.5,262.44 L216,263.15 L216.5,263.83 L217,264.5 L217.5,265.14 L218,265.77 L218.5,266.37 L219,266.95 L219.5,267.51 L220,268.05 L220.5,268.57 L221,269.07 L221.5,269.56 L222,270.03 L222.5,270.49 L223,270.93 L223.5,271.35 L224,271.77 L224.5,272.17 L225,272.55 L225.5,272.93 L226,273.3 L226.5,273.65 L227,273.99 L227.5,274.32 L228,274.64 L228.5,274.93 L229,275.22 L229.5,275.48 L230,275.73 L230.5,275.96 L231,276.18 L231.5,276.38 L232,276.57 L232.5,276.75 L233,276.92 L233.5,277.07 L234,277.21 L234.5,277.34 L235,277.46 L235.5,277.56 L236,277.66 L236.5,277.75 L237,277.84 L237.5,277.91 L238,277.99 L238.5,278.05 L239,278.11 L239.5,278.15 L240,278.18 L240.5,278.21 L241,278.22 L241.5,278.21 L242,278.2 L242.5,278.17 L243,278.14 L243.5,278.09 L244,278.04 L244.5,277.99 L245,277.92 L245.5,277.86 L246,277.78 L246.5,277.71 L247,277.63 L247.5,277.55 L248,277.46 L248.5,277.37 L249,277.28 L249.5,277.17 L250,277.06 L250.5,276.93 L251,276.8 L251.5,276.65 L252,276.48 L252.5,276.31 L253,276.12 L253.5,275.92 L254,275.72 L254.5,275.51 L255,275.29 L255.5,275.07 L256,274.84 L256.5,274.6 L257,274.36 L257.5,274.1 L258,273.84 L258.5,273.57 L259,273.29 L259.5,273 L260,272.71 L260.5,272.41 L261,272.11 L261.5,271.8 L262,271.49 L262.5,271.18 L263,270.86 L263.5,270.55 L264,270.23 L264.5,269.91 L265,269.59 L265.5,269.27 L266,268.94 L266.5,268.62 L267,268.28 L267.5,267.95 L268,267.61 L268.5,267.27 L269,266.92 L269.5,266.57 L270,266.21 L270.5,265.86 L271,265.5 L271.5,265.13 L272,264.77 L272.5,264.41 L273,264.05 L273.5,263.68 L274,263.32 L274.5,262.96 L275,262.6 L275.5,262.24 L276,261.89 L276.5,261.53 L277,261.17 L277.5,260.81 L278,260.45 L278.5,260.09 L279,259.74 L279.5,259.38 L280,259.02 L280.5,258.66 L281,258.31 L281.5,257.95 L282,257.6 L282.5,257.25 L283,256.89 L283.5,256.55 L284,256.2 L284.5,255.85 L285,255.51 L285.5,255.17 L286,254.83 L286.5,254.49 L287,254.16 L287.5,253.83 L288,253.49 L288.5,253.16 L289,252.83 L289.5,252.51 L290,252.18 L290.5,251.85 L291,251.52 L291.5,251.2 L292,250.87 L292.5,250.54 L293,250.22 L293.5,249.89 L294,249.56 L294.5,249.23 L295,248.9 L295.5,248.57 L296,248.24 L296.5,247.91 L297,247.58 L297.5,247.25 L298,246.92 L298.5,246.59 L299,246.26 L299.5,245.93 L300,245.59 L300.5,245.26 L301,244.93 L301.5,244.59 L302,244.25 L302.5,243.92 L303,243.57 L303.5,243.23 L304,242.88 L304.5,242.53 L305,242.18 L305.5,241.82 L306,241.45 L306.5,241.09 L307,240.71 L307.5,240.34 L308,239.96 L308.5,239.58 L309,239.2 L309.5,238.82 L310,238.44 L310.5,238.06 L311,237.69 L311.5,237.32 L312,236.96 L312.5,236.6 L313,236.25 L313.5,235.91 L314,235.57 L314.5,235.24 L315,234.91 L315.5,234.59 L316,234.27 L316.5,233.95 L317,233.64 L317.5,233.33 L318,233.03 L318.5,232.73 L319,232.43 L319.5,232.13 L320,231.84 L320.5,231.54 L321,231.25 L321.5,230.96 L322,230.67 L322.5,230.39 L323,230.1 L323.5,229.81 L324,229.53 L324.5,229.24 L325,228.95 L325.5,228.67 L326,228.38 L326.5,228.09 L327,227.8 L327.5,227.51 L328,227.22 L328.5,226.94 L329,226.65 L329.5,226.37 L330,226.08 L330.5,225.8 L331,225.52 L331.5,225.23 L332,224.95 L332.5,224.66 L333,224.37 L333.5,224.07 L334,223.77 L334.5,223.46 L335,223.15 L335.5,222.83 L336,222.5 L336.5,222.16 L337,221.81 L337.5,221.46 L338,221.09 L338.5,220.72 L339,220.35 L339.5,219.96 L340,219.58 L340.5,219.19 L341,218.79 L341.5,218.39 L342,217.99 L342.5,217.59 L343,217.19 L343.5,216.78 L344,216.38 L344.5,215.97 L345,215.57 L345.5,215.16 L346,214.76 L346.5,214.35 L347,213.95 L347.5,213.55 L348,213.15 L348.5,212.75 L349,212.34 L349.5,211.94 L350,211.53 L350.5,211.12 L351,210.71 L351.5,210.3 L352,209.88 L352.5,209.45 L353,209.02 L353.5,208.58 L354,208.14 L354.5,207.69 L355,207.23 L355.5,206.77 L356,206.29 L356.5,205.81 L357,205.32 L357.5,204.82 L358,204.31 L358.5,203.79 L359,203.27 L359.5,202.73 L360,202.19 L360.5,201.65 L361,201.1 L361.5,200.54 L362,199.97 L362.5,199.4 L363,198.83 L363.5,198.25 L364,197.67 L364.5,197.09 L365,196.5 L365.5,195.91 L366,195.32 L366.5,194.72 L367,194.13 L367.5,193.53 L368,192.94 L368.5,192.34 L369,191.75 L369.5,191.15 L370,190.56 L370.5,189.96 L371,189.36 L371.5,188.77 L372,188.16 L372.5,187.56 L373,186.95 L373.5,186.34 L374,185.73 L374.5,185.11 L375,184.49 L375.5,183.87 L376,183.25 L376.5,182.62 L377,182 L377.5,181.37 L378,180.75 L378.5,180.12 L379,179.5 L379.5,178.87 L380,178.25 L380.5,177.63 L381,177.01 L381.5,176.4 L382,175.78 L382.5,175.17 L383,174.57 L383.5,173.96 L384,173.36 L384.5,172.77 L385,172.17 L385.5,171.58 L386,170.99 L386.5,170.4 L387,169.81 L387.5,169.22 L388,168.64 L388.5,168.05 L389,167.47 L389.5,166.89 L390,166.31 L390.5,165.73 L391,165.15 L391.5,164.58 L392,164 L392.5,163.43 L393,162.85 L393.5,162.28 L394,161.71 L394.5,161.15 L395,160.58 L395.5,160.01 L396,159.45 L396.5,158.89 L397,158.33 L397.5,157.77 L398,157.22 L398.5,156.67 L399,156.12 L399.5,155.57 L400,155.03 L400.5,154.49 L401,153.95 L401.5,153.41 L402,152.88 L402.5,152.35 L403,151.82 L403.5,151.29 L404,150.77 L404.5,150.25 L405,149.73 L405.5,149.22 L406,148.72 L406.5,148.21 L407,147.71 L407.5,147.22 L408,146.73 L408.5,146.24 L409,145.76 L409.5,145.28 L410,144.8 L410.5,144.33 L411,143.86 L411.5,143.4 L412,142.93 L412.5,142.47 L413,142.02 L413.5,141.56 L414,141.11 L414.5,140.66 L415,140.21 L415.5,139.77 L416,139.32 L416.5,138.88 L417,138.44 L417.5,138 L418,137.56 L418.5,137.13 L419,136.69 L419.5,136.25 L420,135.82 L420.5,135.38 L421,134.95 L421.5,134.51 L422,134.08 L422.5,133.66 L423,133.23 L423.5,132.81 L424,132.4 L424.5,131.99 L425,131.58 L425.5,131.18 L426,130.78 L426.5,130.4 L427,130.01 L427.5,129.64 L428,129.27 L428.5,128.91 L429,128.56 L429.5,128.21 L430,127.88 L430.5,127.55 L431,127.22 L431.5,126.9 L432,126.59 L432.5,126.28 L433,125.98 L433.5,125.68 L434,125.39 L434.5,125.11 L435,124.83 L435.5,124.55 L436,124.28 L436.5,124.01 L437,123.75 L437.5,123.49 L438,123.23 L438.5,122.97 L439,122.71 L439.5,122.45 L440,122.19 L440.5,121.93 L441,121.67 L441.5,121.41 L442,121.15 L442.5,120.89 L443,120.63 L443.5,120.37 L444,120.1 L444.5,119.84 L445,119.57 L445.5,119.3 L446,119.03 L446.5,118.76 L447,118.48 L447.5,118.2 L448,117.91 L448.5,117.62 L449,117.33 L449.5,117.03 L450,116.73 L450.5,116.42 L451,116.11 L451.5,115.8 L452,115.48 L452.5,115.15 L453,114.82 L453.5,114.49 L454,114.16 L454.5,113.81 L455,113.47 L455.5,113.11 L456,112.76 L456.5,112.39 L457,112.02 L457.5,111.65 L458,111.26 L458.5,110.87 L459,110.48 L459.5,110.07 L460,109.66 L460.5,109.24 L461,108.81 L461.5,108.37 L462,107.92 L462.5,107.46 L463,106.99 L463.5,106.52 L464,106.03 L464.5,105.54 L465,105.04 L465.5,104.53 L466,104.02 L466.5,103.5 L467,102.97 L467.5,102.43 L468,101.89 L468.5,101.34 L469,100.79 L469.5,100.22 L470,99.65 L470.5,99.06 L471,98.47 L471.5,97.86 L472,97.24 L472.5,96.61 L473,95.98 L473.5,95.34 L474,94.69 L474.5,94.04 L475,93.39 L475.5,92.74 L476,92.1 L476.5,91.47 L477,90.84 L477.5,90.21 L478,89.59 L478.5,88.98 L479,88.37 L479.5,87.77 L480,87.16 L480.5,86.56 L481,85.95 L481.5,85.34 L482,84.73 L482.5,84.11 L483,83.49 L483.5,82.86 L484,82.22 L484.5,81.57 L485,80.92 L485.5,80.25 L486,79.58 L486.5,78.91 L487,78.23 L487.5,77.54 L488,76.85 L488.5,76.15 L489,75.45 L489.5,74.75 L490,74.04 L490.5,73.33 L491,72.63 L491.5,71.92 L492,71.21 L492.5,70.51 L493,69.8 L493.5,69.1 L494,68.4 L494.5,67.7 L495,66.99 L495.5,66.29 L496,65.59 L496.5,64.88 L497,64.18 L497.5,63.47 L498,62.76 L498.5,62.05 L499,61.34 L499.5,60.63 L500,59.93 L500.5,59.24 L501,58.55 L501.5,57.88 L502,57.21 L502.5,56.55 L503,55.91 L503.5,55.28 L504,54.66 L504.5,54.06 L505,53.47 L505.5,52.89 L506,52.32 L506.5,51.77 L507,51.22 L507.5,50.68 L508,50.15 L508.5,49.63 L509,49.11 L509.5,48.6 L510,48.09 L510.5,47.59 L511,47.1 L511.5,46.61 L512,46.12 L512.5,45.64 L513,45.16 L513.5,44.68 L514,44.2 L514.5,43.72 L515,43.24 L515.5,42.76 L516,42.28 L516.5,41.8 L517,41.32 L517.5,40.85 L518,40.38 L518.5,39.92 L519,39.46 L519.5,39.01 L520,38.57 L520.5,38.15 L521,37.73 L521.5,37.33 L522,36.95 L522.5,36.58 L523,36.23 L523.5,35.89 L524,35.56 L524.5,35.26 L525,34.96 L525.5,34.67 L526,34.4 L526.5,34.13 L527,33.87 L527.5,33.62 L528,33.38 L528.5,33.14 L529,32.91 L529.5,32.69 L530,32.48 L530.5,32.27 L531,32.07 L531.5,31.87 L532,31.68 L532.5,31.5 L533,31.32 L533.5,31.15 L534,30.99 L534.5,30.82 L535,30.67 L535.5,30.51 L536,30.37 L536.5,30.22 L537,30.09 L537.5,29.96 L538,29.84 L538.5,29.72 L539,29.62 L539.5,29.52 L540,29.42 L540.5,29.33 L541,29.25 L541.5,29.17 L542,29.09 L542.5,29.01 L543,28.94 L543.5,28.86 L544,28.8 L544.5,28.73 L545,28.67 L545.5,28.61 L546,28.56 L546.5,28.51 L547,28.46 L547.5,28.42 L548,28.39 L548.5,28.37 L549,28.35 L549.5,28.34 L550,28.34 L550.5,28.34 L551,28.36 L551.5,28.38 L552,28.41 L552.5,28.44 L553,28.49 L553.5,28.54 L554,28.6 L554.5,28.66 L555,28.73 L555.5,28.8 L556,28.88 L556.5,28.96 L557,29.05 L557.5,29.13 L558,29.23 L558.5,29.32 L559,29.42 L559.5,29.53 L560,29.64 L560.5,29.77 L561,29.9 L561.5,30.04 L562,30.2 L562.5,30.37 L563,30.55 L563.5,30.74 L564,30.94 L564.5,31.15 L565,31.37 L565.5,31.58 L566,31.8 L566.5,32.02 L567,32.24 L567.5,32.46 L568,32.67 L568.5,32.88 L569,33.08 L569.5,33.28 L570,33.47 L570.5,33.65 L571,33.83 L571.5,34 L572,34.17 L572.5,34.34 L573,34.5 L573.5,34.66 L574,34.83 L574.5,34.99 L575,35.15 L575.5,35.31 L576,35.47 L576.5,35.63 L577,35.79 L577.5,35.95 L578,36.12 L578.5,36.29 L579,36.46 L579.5,36.64 L580,36.82 L580.5,37.01 L581,37.2 L581.5,37.4 L582,37.6 L582.5,37.8 L583,38.01 L583.5,38.22 L584,38.44 L584.5,38.65 L585,38.86 L585.5,39.07 L586,39.28 L586.5,39.49 L587,39.69 L587.5,39.88 L588,40.08 L588.5,40.26 L589,40.44 L589.5,40.61 L590,40.78 L590.5,40.94 L591,41.1 L591.5,41.26 L592,41.41 L592.5,41.56 L593,41.71 L593.5,41.86 L594,42 L594.5,42.14 L595,42.28 L595.5,42.41 L596,42.53 L596.5,42.65 L597,42.76 L597.5,42.87 L598,42.96 L598.5,43.05 L599,43.13 L599.5,43.21 L600,43.28 L600.5,43.34 L601,43.4 L601.5,43.45 L602,43.5 L602.5,43.55 L603,43.6 L603.5,43.64 L604,43.68 L604.5,43.72 L605,43.75 L605.5,43.78 L606,43.81 L606.5,43.83 L607,43.85 L607.5,43.86 L608,43.86 L608.5,43.86 L609,43.85 L609.5,43.83 L610,43.8 L610.5,43.76 L611,43.71 L611.5,43.65 L612,43.58 L612.5,43.5 L613,43.41 L613.5,43.32 L614,43.22 L614.5,43.11 L615,43 L615.5,42.88 L616,42.76 L616.5,42.63 L617,42.5 L617.5,42.36 L618,42.23 L618.5,42.09 L619,41.95 L619.5,41.81 L620,41.66 L620.5,41.52 L621,41.38 L621.5,41.23 L622,41.08 L622.5,40.93 L623,40.77 L623.5,40.6 L624,40.43 L624.5,40.25 L625,40.07 L625.5,39.88 L626,39.68 L626.5,39.48 L627,39.27 L627.5,39.07 L628,38.86 L628.5,38.65 L629,38.44 L629.5,38.23 L630,38.02 L630.5,37.81 L631,37.61 L631.5,37.41 L632,37.21 L632.5,37.01 L633,36.82 L633.5,36.62 L634,36.43 L634.5,36.24 L635,36.04 L635.5,35.85 L636,35.66 L636.5,35.47 L637,35.28 L637.5,35.09 L638,34.9 L638.5,34.71 L639,34.52 L639.5,34.33 L640,34.15 L640.5,33.96 L641,33.78 L641.5,33.59 L642,33.41 L642.5,33.23 L643,33.05 L643.5,32.87 L644,32.68 L644.5,32.5 L645,32.32 L645.5,32.14 L646,31.96 L646.5,31.78 L647,31.61 L647.5,31.43 L648,31.26 L648.5,31.09 L649,30.93 L649.5,30.77 L650,30.61 L650.5,30.45 L651,30.3 L651.5,30.16 L652,30.02 L652.5,29.88 L653,29.74 L653.5,29.61 L654,29.48 L654.5,29.35 L655,29.23 L655.5,29.1 L656,28.98 L656.5,28.86 L657,28.75 L657.5,28.64 L658,28.53 L658.5,28.42 L659,28.32 L659.5,28.22 L660,28.12 L660.5,28.02 L661,27.93 L661.5,27.84 L662,27.76 L662.5,27.67 L663,27.59 L663.5,27.5 L664,27.42 L664.5,27.34 L665,27.27 L665.5,27.19 L666,27.12 L666.5,27.05 L667,26.99 L667.5,26.93 L668,26.88 L668.5,26.83 L669,26.79 L669.5,26.75 L670,26.72 L670.5,26.69 L671,26.67 L671.5,26.64 L672,26.62 L672.5,26.6 L673,26.59 L673.5,26.57 L674,26.56 L674.5,26.54 L675,26.53 L675.5,26.52 L676,26.52 L676.5,26.51 L677,26.51 L677.5,26.51 L678,26.51 L678.5,26.51 L679,26.52 L679.5,26.53 L680,26.53 L680.5,26.54 L681,26.56 L681.5,26.57 L682,26.58 L682.5,26.59 L683,26.61 L683.5,26.62 L684,26.64 L684.5,26.65 L685,26.67 L685.5,26.69 L686,26.7 L686.5,26.72 L687,26.74 L687.5,26.75 L688,26.77 L688.5,26.79 L689,26.81 L689.5,26.83 L690,26.85 L690.5,26.87 L691,26.9 L691.5,26.92 L692,26.94 L692.5,26.97 L693,26.99 L693.5,27.01 L694,27.04 L694.5,27.05 L695,27.07" stroke="#f09a36"/>
</g>
<path d="M241.6,258.3V284" stroke="#6a6a6a" stroke-width="1"/>
<path d="M239.2,282.1L241.6,289.4L244,282.1L241.6,284Z" fill="#111"/>
<path d="M120.00,316.7v-6.5M120.00,10.8v6.5M191.88,316.7v-6.5M191.88,10.8v6.5M263.75,316.7v-6.5M263.75,10.8v6.5M335.62,316.7v-6.5M335.62,10.8v6.5M407.50,316.7v-6.5M407.50,10.8v6.5M479.38,316.7v-6.5M479.38,10.8v6.5M551.25,316.7v-6.5M551.25,10.8v6.5M623.12,316.7v-6.5M623.12,10.8v6.5M695.00,316.7v-6.5M695.00,10.8v6.5M56.0,316.50h6.5M695.3,316.50h-6.5M56.0,285.20h6.5M695.3,285.20h-6.5M56.0,253.90h6.5M695.3,253.90h-6.5M56.0,222.60h6.5M695.3,222.60h-6.5M56.0,191.30h6.5M695.3,191.30h-6.5M56.0,160.00h6.5M695.3,160.00h-6.5M56.0,128.70h6.5M695.3,128.70h-6.5M56.0,97.40h6.5M695.3,97.40h-6.5M56.0,66.10h6.5M695.3,66.10h-6.5M56.0,34.80h6.5M695.3,34.80h-6.5" stroke="#9e9e9e" stroke-width="1.1" fill="none"/>
<rect x="56.0" y="10.8" width="639.30" height="305.90" fill="none" stroke="#a4a4a4" stroke-width="1.3"/>
<g font-family="Liberation Sans, sans-serif" font-size="13.3" fill="#333"><text x="120.0" y="333.3" text-anchor="middle">600</text><text x="191.9" y="333.3" text-anchor="middle">650</text><text x="263.8" y="333.3" text-anchor="middle">700</text><text x="335.6" y="333.3" text-anchor="middle">750</text><text x="407.5" y="333.3" text-anchor="middle">800</text><text x="479.4" y="333.3" text-anchor="middle">850</text><text x="551.2" y="333.3" text-anchor="middle">900</text><text x="623.1" y="333.3" text-anchor="middle">950</text><text x="695.0" y="333.3" text-anchor="middle">1000</text><text x="50.4" y="321.3" text-anchor="end">0.92</text><text x="50.4" y="290.0" text-anchor="end">0.93</text><text x="50.4" y="258.7" text-anchor="end">0.94</text><text x="50.4" y="227.4" text-anchor="end">0.95</text><text x="50.4" y="196.1" text-anchor="end">0.96</text><text x="50.4" y="164.8" text-anchor="end">0.97</text><text x="50.4" y="133.5" text-anchor="end">0.98</text><text x="50.4" y="102.2" text-anchor="end">0.99</text><text x="50.4" y="70.9" text-anchor="end">1</text><text x="50.4" y="39.6" text-anchor="end">1.01</text></g>
<text x="318.3" y="351" font-family="Liberation Sans, sans-serif" font-size="15" fill="#333" textLength="114.8" lengthAdjust="spacingAndGlyphs">Wavelength [nm]</text>
<text transform="translate(20,163.6) rotate(-90)" x="-131" y="0" font-family="Liberation Sans, sans-serif" font-size="15" fill="#333" textLength="262" lengthAdjust="spacingAndGlyphs">Normalized Transmitted Light Intensity</text>
<text x="246.5" y="44.2" font-family="Liberation Sans, sans-serif" font-size="16" font-weight="bold" fill="#111" textLength="166.5" lengthAdjust="spacingAndGlyphs">SPR-POF-NIP sensor</text>
<rect x="57.5" y="209.5" width="130.5" height="100" fill="#fff" stroke="#a8a8a8" stroke-width="1"/>
<path d="M62,220.7H83" stroke="#2828c8" stroke-width="1.6"/>
<text x="85.1" y="226.5" font-family="Liberation Sans, sans-serif" font-size="16" fill="#111" textLength="86.6" lengthAdjust="spacingAndGlyphs">PFOA 0ppb</text>
<path d="M62,240.2H83" stroke="#cf3636" stroke-width="1.6"/>
<text x="85.1" y="246.0" font-family="Liberation Sans, sans-serif" font-size="16" fill="#111" textLength="99.9" lengthAdjust="spacingAndGlyphs">PFOA 0.4ppb</text>
<path d="M62,259.6H83" stroke="#e040e0" stroke-width="1.6"/>
<text x="85.1" y="265.4" font-family="Liberation Sans, sans-serif" font-size="16" fill="#111" textLength="100.3" lengthAdjust="spacingAndGlyphs">PFOA 0.8ppb</text>
<path d="M62,279.4H83" stroke="#36e2e2" stroke-width="1.6"/>
<text x="85.1" y="285.2" font-family="Liberation Sans, sans-serif" font-size="16" fill="#111" textLength="87.1" lengthAdjust="spacingAndGlyphs">PFOA 2ppb</text>
<path d="M62,298.9H83" stroke="#f09a36" stroke-width="1.6"/>
<text x="85.1" y="304.7" font-family="Liberation Sans, sans-serif" font-size="16" fill="#111" textLength="87.1" lengthAdjust="spacingAndGlyphs">PFOA 4ppb</text>
<rect x="475.5" y="152" width="207.0" height="142.60000000000002" fill="#fff"/>
<path d="M489.40,152V294.6M559.20,152V294.6M629.00,152V294.6M475.5,291.68H682.5M475.5,258.61H682.5M475.5,225.54H682.5M475.5,192.47H682.5M475.5,159.40H682.5" stroke="#f1f1f1" stroke-width="1.2" fill="none"/>
<g clip-path="url(#ci)" fill="none" stroke-width="1.35" stroke-linejoin="round">
<path d="M514,148.74 L514.5,149.17 L515,149.71 L515.5,150.33 L516,151.01 L516.5,151.71 L517,152.43 L517.5,153.15 L518,153.88 L518.5,154.6 L519,155.32 L519.5,156.04 L520,156.77 L520.5,157.48 L521,158.2 L521.5,158.91 L522,159.62 L522.5,160.32 L523,161.01 L523.5,161.7 L524,162.37 L524.5,163.04 L525,163.7 L525.5,164.35 L526,164.98 L526.5,165.6 L527,166.21 L527.5,166.81 L528,167.4 L528.5,167.98 L529,168.55 L529.5,169.11 L530,169.67 L530.5,170.22 L531,170.76 L531.5,171.29 L532,171.82 L532.5,172.34 L533,172.86 L533.5,173.36 L534,173.86 L534.5,174.35 L535,174.83 L535.5,175.3 L536,175.76 L536.5,176.22 L537,176.66 L537.5,177.1 L538,177.53 L538.5,177.95 L539,178.36 L539.5,178.76 L540,179.15 L540.5,179.54 L541,179.92 L541.5,180.29 L542,180.66 L542.5,181.02 L543,181.38 L543.5,181.73 L544,182.08 L544.5,182.42 L545,182.76 L545.5,183.09 L546,183.42 L546.5,183.74 L547,184.06 L547.5,184.38 L548,184.69 L548.5,185 L549,185.31 L549.5,185.61 L550,185.91 L550.5,186.2 L551,186.5 L551.5,186.79 L552,187.08 L552.5,187.36 L553,187.64 L553.5,187.92 L554,188.2 L554.5,188.47 L555,188.74 L555.5,189.01 L556,189.28 L556.5,189.54 L557,189.8 L557.5,190.05 L558,190.31 L558.5,190.56 L559,190.81 L559.5,191.06 L560,191.3 L560.5,191.54 L561,191.78 L561.5,192.02 L562,192.26 L562.5,192.49 L563,192.72 L563.5,192.95 L564,193.18 L564.5,193.4 L565,193.63 L565.5,193.85 L566,194.07 L566.5,194.28 L567,194.49 L567.5,194.7 L568,194.91 L568.5,195.11 L569,195.31 L569.5,195.5 L570,195.7 L570.5,195.89 L571,196.08 L571.5,196.27 L572,196.47 L572.5,196.66 L573,196.85 L573.5,197.04 L574,197.23 L574.5,197.42 L575,197.61 L575.5,197.79 L576,197.96 L576.5,198.14 L577,198.3 L577.5,198.46 L578,198.62 L578.5,198.76 L579,198.9 L579.5,199.03 L580,199.15 L580.5,199.26 L581,199.36 L581.5,199.46 L582,199.56 L582.5,199.65 L583,199.74 L583.5,199.82 L584,199.91 L584.5,199.99 L585,200.08 L585.5,200.16 L586,200.23 L586.5,200.31 L587,200.38 L587.5,200.45 L588,200.52 L588.5,200.58 L589,200.64 L589.5,200.7 L590,200.75 L590.5,200.8 L591,200.84 L591.5,200.88 L592,200.91 L592.5,200.93 L593,200.96 L593.5,200.97 L594,200.98 L594.5,200.98 L595,200.98 L595.5,200.97 L596,200.96 L596.5,200.94 L597,200.91 L597.5,200.88 L598,200.85 L598.5,200.81 L599,200.76 L599.5,200.72 L600,200.66 L600.5,200.61 L601,200.54 L601.5,200.48 L602,200.41 L602.5,200.34 L603,200.26 L603.5,200.19 L604,200.1 L604.5,200.02 L605,199.93 L605.5,199.84 L606,199.75 L606.5,199.65 L607,199.55 L607.5,199.45 L608,199.35 L608.5,199.24 L609,199.13 L609.5,199.03 L610,198.92 L610.5,198.8 L611,198.69 L611.5,198.58 L612,198.46 L612.5,198.35 L613,198.23 L613.5,198.11 L614,197.98 L614.5,197.85 L615,197.72 L615.5,197.58 L616,197.43 L616.5,197.27 L617,197.09 L617.5,196.91 L618,196.72 L618.5,196.53 L619,196.32 L619.5,196.1 L620,195.88 L620.5,195.65 L621,195.42 L621.5,195.17 L622,194.93 L622.5,194.67 L623,194.42 L623.5,194.16 L624,193.89 L624.5,193.62 L625,193.35 L625.5,193.08 L626,192.81 L626.5,192.53 L627,192.25 L627.5,191.98 L628,191.7 L628.5,191.42 L629,191.15 L629.5,190.87 L630,190.6 L630.5,190.32 L631,190.04 L631.5,189.75 L632,189.47 L632.5,189.17 L633,188.88 L633.5,188.58 L634,188.27 L634.5,187.97 L635,187.66 L635.5,187.34 L636,187.03 L636.5,186.71 L637,186.38 L637.5,186.06 L638,185.73 L638.5,185.4 L639,185.07 L639.5,184.74 L640,184.4 L640.5,184.07 L641,183.73 L641.5,183.39 L642,183.05 L642.5,182.71 L643,182.37 L643.5,182.03 L644,181.69 L644.5,181.35 L645,181.01 L645.5,180.67 L646,180.33 L646.5,179.98 L647,179.64 L647.5,179.3 L648,178.95 L648.5,178.61 L649,178.26 L649.5,177.91 L650,177.56 L650.5,177.21 L651,176.86 L651.5,176.5 L652,176.15 L652.5,175.79 L653,175.43 L653.5,175.07 L654,174.71 L654.5,174.35 L655,173.99 L655.5,173.62 L656,173.25 L656.5,172.88 L657,172.51 L657.5,172.14 L658,171.76 L658.5,171.38 L659,171.01 L659.5,170.63 L660,170.24 L660.5,169.86 L661,169.47 L661.5,169.08 L662,168.69 L662.5,168.3 L663,167.91 L663.5,167.51 L664,167.12 L664.5,166.72 L665,166.32 L665.5,165.91 L666,165.51 L666.5,165.1 L667,164.69 L667.5,164.28 L668,163.86 L668.5,163.44 L669,163.02 L669.5,162.6 L670,162.17 L670.5,161.74 L671,161.31 L671.5,160.88 L672,160.44 L672.5,160 L673,159.55 L673.5,159.1 L674,158.65 L674.5,158.18 L675,157.72 L675.5,157.24 L676,156.76 L676.5,156.27 L677,155.78 L677.5,155.28 L678,154.78 L678.5,154.29 L679,153.79 L679.5,153.3 L680,152.81 L680.5,152.33 L681,151.85 L681.5,151.38 L682,150.92 L682.5,150.48 L683,150.08 L683.5,149.74 L684,149.46" stroke="#2828c8"/>
<path d="M507.5,148.79 L508,149.25 L508.5,149.84 L509,150.51 L509.5,151.25 L510,152.02 L510.5,152.81 L511,153.62 L511.5,154.42 L512,155.24 L512.5,156.05 L513,156.87 L513.5,157.68 L514,158.5 L514.5,159.31 L515,160.13 L515.5,160.93 L516,161.74 L516.5,162.53 L517,163.32 L517.5,164.1 L518,164.87 L518.5,165.63 L519,166.38 L519.5,167.11 L520,167.83 L520.5,168.53 L521,169.23 L521.5,169.91 L522,170.59 L522.5,171.26 L523,171.92 L523.5,172.57 L524,173.22 L524.5,173.87 L525,174.51 L525.5,175.14 L526,175.76 L526.5,176.38 L527,176.99 L527.5,177.6 L528,178.2 L528.5,178.78 L529,179.36 L529.5,179.93 L530,180.49 L530.5,181.04 L531,181.58 L531.5,182.11 L532,182.63 L532.5,183.14 L533,183.64 L533.5,184.12 L534,184.6 L534.5,185.06 L535,185.52 L535.5,185.96 L536,186.4 L536.5,186.83 L537,187.26 L537.5,187.68 L538,188.09 L538.5,188.49 L539,188.89 L539.5,189.28 L540,189.67 L540.5,190.05 L541,190.42 L541.5,190.79 L542,191.16 L542.5,191.51 L543,191.87 L543.5,192.21 L544,192.55 L544.5,192.89 L545,193.22 L545.5,193.55 L546,193.87 L546.5,194.19 L547,194.5 L547.5,194.81 L548,195.11 L548.5,195.42 L549,195.72 L549.5,196.01 L550,196.31 L550.5,196.6 L551,196.89 L551.5,197.18 L552,197.47 L552.5,197.75 L553,198.03 L553.5,198.31 L554,198.58 L554.5,198.85 L555,199.12 L555.5,199.38 L556,199.64 L556.5,199.89 L557,200.14 L557.5,200.38 L558,200.62 L558.5,200.85 L559,201.08 L559.5,201.3 L560,201.52 L560.5,201.73 L561,201.93 L561.5,202.13 L562,202.32 L562.5,202.5 L563,202.67 L563.5,202.84 L564,203 L564.5,203.16 L565,203.3 L565.5,203.44 L566,203.58 L566.5,203.71 L567,203.84 L567.5,203.97 L568,204.1 L568.5,204.22 L569,204.35 L569.5,204.48 L570,204.61 L570.5,204.74 L571,204.87 L571.5,205.01 L572,205.14 L572.5,205.28 L573,205.41 L573.5,205.55 L574,205.69 L574.5,205.82 L575,205.96 L575.5,206.09 L576,206.22 L576.5,206.35 L577,206.48 L577.5,206.61 L578,206.73 L578.5,206.85 L579,206.97 L579.5,207.08 L580,207.2 L580.5,207.31 L581,207.43 L581.5,207.54 L582,207.66 L582.5,207.77 L583,207.89 L583.5,208.01 L584,208.13 L584.5,208.25 L585,208.37 L585.5,208.49 L586,208.61 L586.5,208.72 L587,208.83 L587.5,208.95 L588,209.05 L588.5,209.16 L589,209.26 L589.5,209.36 L590,209.45 L590.5,209.54 L591,209.62 L591.5,209.7 L592,209.77 L592.5,209.83 L593,209.89 L593.5,209.94 L594,209.98 L594.5,210.02 L595,210.04 L595.5,210.06 L596,210.07 L596.5,210.06 L597,210.05 L597.5,210.03 L598,209.99 L598.5,209.94 L599,209.89 L599.5,209.82 L600,209.74 L600.5,209.66 L601,209.56 L601.5,209.46 L602,209.35 L602.5,209.23 L603,209.1 L603.5,208.97 L604,208.83 L604.5,208.68 L605,208.52 L605.5,208.36 L606,208.2 L606.5,208.03 L607,207.86 L607.5,207.68 L608,207.5 L608.5,207.31 L609,207.12 L609.5,206.93 L610,206.74 L610.5,206.55 L611,206.35 L611.5,206.15 L612,205.95 L612.5,205.75 L613,205.55 L613.5,205.35 L614,205.15 L614.5,204.94 L615,204.72 L615.5,204.5 L616,204.26 L616.5,204.01 L617,203.76 L617.5,203.49 L618,203.21 L618.5,202.92 L619,202.62 L619.5,202.31 L620,202 L620.5,201.68 L621,201.35 L621.5,201.01 L622,200.67 L622.5,200.33 L623,199.98 L623.5,199.62 L624,199.27 L624.5,198.91 L625,198.55 L625.5,198.19 L626,197.83 L626.5,197.47 L627,197.11 L627.5,196.75 L628,196.4 L628.5,196.05 L629,195.7 L629.5,195.35 L630,195 L630.5,194.66 L631,194.32 L631.5,193.97 L632,193.63 L632.5,193.28 L633,192.93 L633.5,192.58 L634,192.23 L634.5,191.88 L635,191.53 L635.5,191.17 L636,190.82 L636.5,190.46 L637,190.1 L637.5,189.74 L638,189.38 L638.5,189.02 L639,188.66 L639.5,188.3 L640,187.94 L640.5,187.58 L641,187.21 L641.5,186.85 L642,186.49 L642.5,186.13 L643,185.77 L643.5,185.41 L644,185.05 L644.5,184.69 L645,184.33 L645.5,183.97 L646,183.62 L646.5,183.26 L647,182.91 L647.5,182.56 L648,182.21 L648.5,181.85 L649,181.5 L649.5,181.15 L650,180.81 L650.5,180.46 L651,180.11 L651.5,179.76 L652,179.41 L652.5,179.06 L653,178.71 L653.5,178.35 L654,178 L654.5,177.65 L655,177.29 L655.5,176.94 L656,176.58 L656.5,176.22 L657,175.86 L657.5,175.49 L658,175.12 L658.5,174.76 L659,174.38 L659.5,174.01 L660,173.63 L660.5,173.25 L661,172.87 L661.5,172.49 L662,172.1 L662.5,171.71 L663,171.32 L663.5,170.93 L664,170.54 L664.5,170.14 L665,169.74 L665.5,169.35 L666,168.94 L666.5,168.54 L667,168.13 L667.5,167.72 L668,167.31 L668.5,166.9 L669,166.48 L669.5,166.05 L670,165.63 L670.5,165.2 L671,164.76 L671.5,164.32 L672,163.88 L672.5,163.43 L673,162.98 L673.5,162.52 L674,162.06 L674.5,161.59 L675,161.12 L675.5,160.65 L676,160.17 L676.5,159.68 L677,159.19 L677.5,158.69 L678,158.18 L678.5,157.66 L679,157.14 L679.5,156.6 L680,156.05 L680.5,155.49 L681,154.91 L681.5,154.32 L682,153.73 L682.5,153.14 L683,152.59 L683.5,152.1 L684,151.7" stroke="#cf3636"/>
<path d="M495.5,148.85 L496,149.35 L496.5,149.99 L497,150.74 L497.5,151.57 L498,152.45 L498.5,153.37 L499,154.32 L499.5,155.29 L500,156.28 L500.5,157.28 L501,158.29 L501.5,159.31 L502,160.33 L502.5,161.36 L503,162.39 L503.5,163.41 L504,164.42 L504.5,165.43 L505,166.42 L505.5,167.4 L506,168.36 L506.5,169.3 L507,170.21 L507.5,171.11 L508,171.99 L508.5,172.85 L509,173.7 L509.5,174.54 L510,175.37 L510.5,176.18 L511,176.99 L511.5,177.79 L512,178.58 L512.5,179.37 L513,180.14 L513.5,180.91 L514,181.67 L514.5,182.42 L515,183.17 L515.5,183.9 L516,184.63 L516.5,185.36 L517,186.07 L517.5,186.78 L518,187.48 L518.5,188.18 L519,188.86 L519.5,189.55 L520,190.22 L520.5,190.89 L521,191.55 L521.5,192.21 L522,192.87 L522.5,193.52 L523,194.16 L523.5,194.81 L524,195.44 L524.5,196.08 L525,196.71 L525.5,197.33 L526,197.95 L526.5,198.56 L527,199.17 L527.5,199.77 L528,200.36 L528.5,200.95 L529,201.52 L529.5,202.09 L530,202.65 L530.5,203.21 L531,203.75 L531.5,204.28 L532,204.8 L532.5,205.32 L533,205.82 L533.5,206.31 L534,206.79 L534.5,207.26 L535,207.72 L535.5,208.18 L536,208.62 L536.5,209.06 L537,209.48 L537.5,209.9 L538,210.31 L538.5,210.72 L539,211.11 L539.5,211.5 L540,211.88 L540.5,212.25 L541,212.61 L541.5,212.96 L542,213.31 L542.5,213.65 L543,213.98 L543.5,214.31 L544,214.62 L544.5,214.94 L545,215.25 L545.5,215.55 L546,215.85 L546.5,216.15 L547,216.44 L547.5,216.72 L548,217 L548.5,217.28 L549,217.55 L549.5,217.82 L550,218.09 L550.5,218.35 L551,218.6 L551.5,218.85 L552,219.1 L552.5,219.34 L553,219.58 L553.5,219.81 L554,220.04 L554.5,220.26 L555,220.48 L555.5,220.69 L556,220.9 L556.5,221.1 L557,221.3 L557.5,221.49 L558,221.67 L558.5,221.86 L559,222.04 L559.5,222.22 L560,222.4 L560.5,222.58 L561,222.76 L561.5,222.94 L562,223.13 L562.5,223.32 L563,223.52 L563.5,223.72 L564,223.93 L564.5,224.14 L565,224.36 L565.5,224.57 L566,224.79 L566.5,225 L567,225.21 L567.5,225.41 L568,225.61 L568.5,225.8 L569,225.98 L569.5,226.16 L570,226.33 L570.5,226.5 L571,226.66 L571.5,226.82 L572,226.98 L572.5,227.14 L573,227.3 L573.5,227.45 L574,227.6 L574.5,227.74 L575,227.88 L575.5,228.02 L576,228.15 L576.5,228.27 L577,228.39 L577.5,228.51 L578,228.61 L578.5,228.72 L579,228.81 L579.5,228.9 L580,228.99 L580.5,229.07 L581,229.15 L581.5,229.22 L582,229.3 L582.5,229.37 L583,229.45 L583.5,229.52 L584,229.59 L584.5,229.66 L585,229.73 L585.5,229.79 L586,229.85 L586.5,229.91 L587,229.97 L587.5,230.03 L588,230.08 L588.5,230.13 L589,230.17 L589.5,230.21 L590,230.25 L590.5,230.28 L591,230.31 L591.5,230.34 L592,230.35 L592.5,230.37 L593,230.37 L593.5,230.37 L594,230.35 L594.5,230.32 L595,230.28 L595.5,230.23 L596,230.16 L596.5,230.07 L597,229.98 L597.5,229.87 L598,229.74 L598.5,229.61 L599,229.46 L599.5,229.31 L600,229.14 L600.5,228.97 L601,228.79 L601.5,228.6 L602,228.4 L602.5,228.2 L603,228 L603.5,227.79 L604,227.57 L604.5,227.36 L605,227.14 L605.5,226.92 L606,226.7 L606.5,226.48 L607,226.26 L607.5,226.05 L608,225.83 L608.5,225.62 L609,225.41 L609.5,225.21 L610,225 L610.5,224.8 L611,224.6 L611.5,224.4 L612,224.19 L612.5,223.98 L613,223.77 L613.5,223.56 L614,223.35 L614.5,223.13 L615,222.91 L615.5,222.69 L616,222.46 L616.5,222.23 L617,222 L617.5,221.77 L618,221.53 L618.5,221.29 L619,221.05 L619.5,220.81 L620,220.56 L620.5,220.31 L621,220.06 L621.5,219.8 L622,219.54 L622.5,219.28 L623,219.01 L623.5,218.75 L624,218.48 L624.5,218.2 L625,217.93 L625.5,217.65 L626,217.36 L626.5,217.08 L627,216.78 L627.5,216.49 L628,216.19 L628.5,215.88 L629,215.57 L629.5,215.25 L630,214.93 L630.5,214.6 L631,214.26 L631.5,213.92 L632,213.58 L632.5,213.23 L633,212.87 L633.5,212.51 L634,212.15 L634.5,211.79 L635,211.42 L635.5,211.04 L636,210.67 L636.5,210.29 L637,209.91 L637.5,209.53 L638,209.14 L638.5,208.76 L639,208.37 L639.5,207.98 L640,207.59 L640.5,207.2 L641,206.81 L641.5,206.41 L642,206.02 L642.5,205.63 L643,205.23 L643.5,204.84 L644,204.44 L644.5,204.04 L645,203.63 L645.5,203.22 L646,202.81 L646.5,202.4 L647,201.98 L647.5,201.56 L648,201.13 L648.5,200.71 L649,200.28 L649.5,199.85 L650,199.42 L650.5,198.99 L651,198.55 L651.5,198.12 L652,197.68 L652.5,197.24 L653,196.8 L653.5,196.37 L654,195.93 L654.5,195.49 L655,195.06 L655.5,194.62 L656,194.19 L656.5,193.76 L657,193.33 L657.5,192.9 L658,192.47 L658.5,192.04 L659,191.62 L659.5,191.2 L660,190.78 L660.5,190.36 L661,189.94 L661.5,189.53 L662,189.11 L662.5,188.7 L663,188.28 L663.5,187.87 L664,187.46 L664.5,187.04 L665,186.63 L665.5,186.22 L666,185.8 L666.5,185.39 L667,184.97 L667.5,184.56 L668,184.14 L668.5,183.72 L669,183.31 L669.5,182.89 L670,182.47 L670.5,182.04 L671,181.62 L671.5,181.19 L672,180.77 L672.5,180.34 L673,179.91 L673.5,179.49 L674,179.06 L674.5,178.63 L675,178.2 L675.5,177.77 L676,177.34 L676.5,176.91 L677,176.48 L677.5,176.04 L678,175.6 L678.5,175.16 L679,174.72 L679.5,174.27 L680,173.82 L680.5,173.36 L681,172.9 L681.5,172.44 L682,171.99 L682.5,171.55 L683,171.14 L683.5,170.78 L684,170.49" stroke="#e040e0"/>
<path d="M485,149.16 L485.5,149.84 L486,150.69 L486.5,151.67 L487,152.74 L487.5,153.85 L488,154.99 L488.5,156.13 L489,157.27 L489.5,158.4 L490,159.53 L490.5,160.66 L491,161.79 L491.5,162.92 L492,164.04 L492.5,165.16 L493,166.28 L493.5,167.4 L494,168.51 L494.5,169.63 L495,170.76 L495.5,171.89 L496,173.02 L496.5,174.15 L497,175.29 L497.5,176.43 L498,177.57 L498.5,178.71 L499,179.84 L499.5,180.98 L500,182.1 L500.5,183.22 L501,184.33 L501.5,185.43 L502,186.51 L502.5,187.58 L503,188.64 L503.5,189.68 L504,190.7 L504.5,191.7 L505,192.69 L505.5,193.65 L506,194.6 L506.5,195.53 L507,196.45 L507.5,197.35 L508,198.25 L508.5,199.13 L509,199.99 L509.5,200.85 L510,201.7 L510.5,202.54 L511,203.38 L511.5,204.2 L512,205.02 L512.5,205.82 L513,206.63 L513.5,207.42 L514,208.21 L514.5,209 L515,209.78 L515.5,210.55 L516,211.33 L516.5,212.09 L517,212.86 L517.5,213.62 L518,214.38 L518.5,215.14 L519,215.89 L519.5,216.64 L520,217.39 L520.5,218.13 L521,218.86 L521.5,219.59 L522,220.31 L522.5,221.03 L523,221.74 L523.5,222.44 L524,223.14 L524.5,223.83 L525,224.51 L525.5,225.19 L526,225.86 L526.5,226.52 L527,227.19 L527.5,227.84 L528,228.5 L528.5,229.16 L529,229.81 L529.5,230.46 L530,231.1 L530.5,231.75 L531,232.39 L531.5,233.02 L532,233.65 L532.5,234.27 L533,234.89 L533.5,235.49 L534,236.09 L534.5,236.68 L535,237.26 L535.5,237.82 L536,238.38 L536.5,238.92 L537,239.45 L537.5,239.97 L538,240.47 L538.5,240.97 L539,241.46 L539.5,241.93 L540,242.41 L540.5,242.87 L541,243.33 L541.5,243.78 L542,244.23 L542.5,244.67 L543,245.1 L543.5,245.53 L544,245.95 L544.5,246.36 L545,246.76 L545.5,247.15 L546,247.53 L546.5,247.91 L547,248.27 L547.5,248.62 L548,248.96 L548.5,249.29 L549,249.6 L549.5,249.9 L550,250.2 L550.5,250.48 L551,250.75 L551.5,251.01 L552,251.26 L552.5,251.5 L553,251.74 L553.5,251.97 L554,252.19 L554.5,252.41 L555,252.62 L555.5,252.83 L556,253.04 L556.5,253.24 L557,253.43 L557.5,253.63 L558,253.82 L558.5,254 L559,254.19 L559.5,254.38 L560,254.56 L560.5,254.75 L561,254.93 L561.5,255.12 L562,255.3 L562.5,255.48 L563,255.67 L563.5,255.85 L564,256.03 L564.5,256.21 L565,256.39 L565.5,256.57 L566,256.75 L566.5,256.92 L567,257.09 L567.5,257.26 L568,257.42 L568.5,257.59 L569,257.75 L569.5,257.9 L570,258.05 L570.5,258.2 L571,258.35 L571.5,258.49 L572,258.62 L572.5,258.76 L573,258.89 L573.5,259.01 L574,259.13 L574.5,259.25 L575,259.37 L575.5,259.49 L576,259.6 L576.5,259.72 L577,259.83 L577.5,259.94 L578,260.05 L578.5,260.16 L579,260.28 L579.5,260.39 L580,260.51 L580.5,260.63 L581,260.75 L581.5,260.87 L582,261 L582.5,261.12 L583,261.25 L583.5,261.37 L584,261.49 L584.5,261.61 L585,261.73 L585.5,261.84 L586,261.94 L586.5,262.04 L587,262.13 L587.5,262.21 L588,262.28 L588.5,262.35 L589,262.42 L589.5,262.48 L590,262.55 L590.5,262.6 L591,262.66 L591.5,262.71 L592,262.76 L592.5,262.81 L593,262.85 L593.5,262.89 L594,262.92 L594.5,262.94 L595,262.95 L595.5,262.96 L596,262.95 L596.5,262.93 L597,262.88 L597.5,262.82 L598,262.75 L598.5,262.65 L599,262.54 L599.5,262.42 L600,262.28 L600.5,262.13 L601,261.98 L601.5,261.82 L602,261.66 L602.5,261.49 L603,261.33 L603.5,261.16 L604,261 L604.5,260.83 L605,260.65 L605.5,260.48 L606,260.3 L606.5,260.11 L607,259.91 L607.5,259.71 L608,259.51 L608.5,259.3 L609,259.09 L609.5,258.87 L610,258.64 L610.5,258.42 L611,258.19 L611.5,257.96 L612,257.73 L612.5,257.49 L613,257.25 L613.5,257.01 L614,256.76 L614.5,256.51 L615,256.25 L615.5,255.99 L616,255.73 L616.5,255.46 L617,255.19 L617.5,254.92 L618,254.64 L618.5,254.36 L619,254.08 L619.5,253.8 L620,253.51 L620.5,253.22 L621,252.93 L621.5,252.63 L622,252.33 L622.5,252.04 L623,251.74 L623.5,251.44 L624,251.14 L624.5,250.83 L625,250.53 L625.5,250.23 L626,249.92 L626.5,249.62 L627,249.32 L627.5,249.01 L628,248.71 L628.5,248.4 L629,248.1 L629.5,247.79 L630,247.49 L630.5,247.18 L631,246.88 L631.5,246.57 L632,246.26 L632.5,245.95 L633,245.63 L633.5,245.32 L634,245.01 L634.5,244.69 L635,244.37 L635.5,244.05 L636,243.73 L636.5,243.41 L637,243.09 L637.5,242.77 L638,242.45 L638.5,242.12 L639,241.79 L639.5,241.47 L640,241.14 L640.5,240.81 L641,240.48 L641.5,240.15 L642,239.82 L642.5,239.48 L643,239.15 L643.5,238.81 L644,238.48 L644.5,238.14 L645,237.8 L645.5,237.47 L646,237.13 L646.5,236.79 L647,236.45 L647.5,236.11 L648,235.77 L648.5,235.43 L649,235.09 L649.5,234.75 L650,234.41 L650.5,234.07 L651,233.72 L651.5,233.38 L652,233.03 L652.5,232.69 L653,232.34 L653.5,231.99 L654,231.64 L654.5,231.28 L655,230.93 L655.5,230.57 L656,230.21 L656.5,229.85 L657,229.48 L657.5,229.11 L658,228.74 L658.5,228.37 L659,227.99 L659.5,227.62 L660,227.23 L660.5,226.85 L661,226.46 L661.5,226.06 L662,225.67 L662.5,225.27 L663,224.86 L663.5,224.45 L664,224.04 L664.5,223.63 L665,223.21 L665.5,222.78 L666,222.35 L666.5,221.92 L667,221.48 L667.5,221.04 L668,220.6 L668.5,220.15 L669,219.7 L669.5,219.25 L670,218.79 L670.5,218.33 L671,217.86 L671.5,217.39 L672,216.92 L672.5,216.44 L673,215.96 L673.5,215.47 L674,214.99 L674.5,214.49 L675,213.99 L675.5,213.49 L676,212.98 L676.5,212.47 L677,211.95 L677.5,211.42 L678,210.89 L678.5,210.35 L679,209.81 L679.5,209.26 L680,208.7 L680.5,208.14 L681,207.58 L681.5,207.01 L682,206.45 L682.5,205.91 L683,205.4 L683.5,204.96 L684,204.61" stroke="#36e2e2"/>
<path d="M474,149.23 L474.5,149.96 L475,150.87 L475.5,151.93 L476,153.1 L476.5,154.32 L477,155.58 L477.5,156.85 L478,158.12 L478.5,159.41 L479,160.69 L479.5,161.97 L480,163.26 L480.5,164.54 L481,165.83 L481.5,167.11 L482,168.38 L482.5,169.66 L483,170.93 L483.5,172.2 L484,173.47 L484.5,174.73 L485,175.99 L485.5,177.26 L486,178.52 L486.5,179.78 L487,181.03 L487.5,182.29 L488,183.54 L488.5,184.79 L489,186.03 L489.5,187.27 L490,188.51 L490.5,189.74 L491,190.97 L491.5,192.19 L492,193.41 L492.5,194.64 L493,195.86 L493.5,197.08 L494,198.31 L494.5,199.54 L495,200.76 L495.5,201.98 L496,203.2 L496.5,204.41 L497,205.6 L497.5,206.78 L498,207.94 L498.5,209.08 L499,210.2 L499.5,211.3 L500,212.36 L500.5,213.4 L501,214.41 L501.5,215.4 L502,216.36 L502.5,217.29 L503,218.21 L503.5,219.11 L504,219.99 L504.5,220.85 L505,221.7 L505.5,222.55 L506,223.38 L506.5,224.2 L507,225.01 L507.5,225.82 L508,226.63 L508.5,227.43 L509,228.24 L509.5,229.04 L510,229.84 L510.5,230.64 L511,231.45 L511.5,232.25 L512,233.05 L512.5,233.85 L513,234.64 L513.5,235.44 L514,236.22 L514.5,237.01 L515,237.79 L515.5,238.57 L516,239.34 L516.5,240.11 L517,240.87 L517.5,241.63 L518,242.38 L518.5,243.12 L519,243.86 L519.5,244.58 L520,245.31 L520.5,246.02 L521,246.73 L521.5,247.43 L522,248.12 L522.5,248.81 L523,249.49 L523.5,250.17 L524,250.84 L524.5,251.51 L525,252.17 L525.5,252.82 L526,253.47 L526.5,254.11 L527,254.74 L527.5,255.37 L528,255.98 L528.5,256.59 L529,257.18 L529.5,257.76 L530,258.33 L530.5,258.89 L531,259.44 L531.5,259.98 L532,260.51 L532.5,261.03 L533,261.55 L533.5,262.06 L534,262.56 L534.5,263.06 L535,263.55 L535.5,264.04 L536,264.52 L536.5,264.99 L537,265.45 L537.5,265.91 L538,266.36 L538.5,266.8 L539,267.23 L539.5,267.66 L540,268.07 L540.5,268.47 L541,268.87 L541.5,269.25 L542,269.62 L542.5,269.98 L543,270.33 L543.5,270.67 L544,271 L544.5,271.32 L545,271.64 L545.5,271.94 L546,272.24 L546.5,272.54 L547,272.82 L547.5,273.1 L548,273.38 L548.5,273.65 L549,273.91 L549.5,274.17 L550,274.43 L550.5,274.69 L551,274.94 L551.5,275.19 L552,275.43 L552.5,275.68 L553,275.93 L553.5,276.17 L554,276.41 L554.5,276.66 L555,276.9 L555.5,277.14 L556,277.39 L556.5,277.63 L557,277.87 L557.5,278.11 L558,278.35 L558.5,278.59 L559,278.82 L559.5,279.05 L560,279.28 L560.5,279.51 L561,279.73 L561.5,279.94 L562,280.15 L562.5,280.36 L563,280.56 L563.5,280.75 L564,280.94 L564.5,281.12 L565,281.3 L565.5,281.48 L566,281.65 L566.5,281.82 L567,281.99 L567.5,282.15 L568,282.31 L568.5,282.47 L569,282.62 L569.5,282.77 L570,282.91 L570.5,283.06 L571,283.19 L571.5,283.32 L572,283.45 L572.5,283.57 L573,283.69 L573.5,283.8 L574,283.91 L574.5,284.02 L575,284.12 L575.5,284.22 L576,284.32 L576.5,284.42 L577,284.51 L577.5,284.6 L578,284.68 L578.5,284.77 L579,284.84 L579.5,284.91 L580,284.98 L580.5,285.04 L581,285.09 L581.5,285.14 L582,285.19 L582.5,285.23 L583,285.26 L583.5,285.3 L584,285.33 L584.5,285.36 L585,285.39 L585.5,285.42 L586,285.44 L586.5,285.47 L587,285.49 L587.5,285.51 L588,285.53 L588.5,285.55 L589,285.56 L589.5,285.57 L590,285.58 L590.5,285.58 L591,285.58 L591.5,285.58 L592,285.57 L592.5,285.55 L593,285.53 L593.5,285.5 L594,285.47 L594.5,285.43 L595,285.38 L595.5,285.33 L596,285.28 L596.5,285.22 L597,285.16 L597.5,285.09 L598,285.02 L598.5,284.94 L599,284.85 L599.5,284.74 L600,284.62 L600.5,284.49 L601,284.35 L601.5,284.19 L602,284.02 L602.5,283.83 L603,283.64 L603.5,283.43 L604,283.21 L604.5,282.99 L605,282.75 L605.5,282.51 L606,282.26 L606.5,282.01 L607,281.75 L607.5,281.49 L608,281.22 L608.5,280.95 L609,280.68 L609.5,280.41 L610,280.14 L610.5,279.87 L611,279.6 L611.5,279.33 L612,279.07 L612.5,278.8 L613,278.53 L613.5,278.26 L614,277.98 L614.5,277.71 L615,277.42 L615.5,277.14 L616,276.85 L616.5,276.55 L617,276.25 L617.5,275.95 L618,275.64 L618.5,275.33 L619,275.01 L619.5,274.69 L620,274.37 L620.5,274.04 L621,273.71 L621.5,273.38 L622,273.05 L622.5,272.71 L623,272.38 L623.5,272.03 L624,271.69 L624.5,271.35 L625,271 L625.5,270.66 L626,270.31 L626.5,269.96 L627,269.61 L627.5,269.26 L628,268.9 L628.5,268.55 L629,268.19 L629.5,267.84 L630,267.48 L630.5,267.12 L631,266.75 L631.5,266.39 L632,266.02 L632.5,265.64 L633,265.27 L633.5,264.89 L634,264.51 L634.5,264.13 L635,263.74 L635.5,263.36 L636,262.97 L636.5,262.58 L637,262.18 L637.5,261.79 L638,261.39 L638.5,260.99 L639,260.59 L639.5,260.19 L640,259.79 L640.5,259.38 L641,258.98 L641.5,258.57 L642,258.16 L642.5,257.75 L643,257.34 L643.5,256.93 L644,256.52 L644.5,256.11 L645,255.69 L645.5,255.28 L646,254.87 L646.5,254.45 L647,254.03 L647.5,253.62 L648,253.2 L648.5,252.78 L649,252.35 L649.5,251.93 L650,251.51 L650.5,251.08 L651,250.65 L651.5,250.22 L652,249.79 L652.5,249.36 L653,248.93 L653.5,248.5 L654,248.06 L654.5,247.62 L655,247.18 L655.5,246.75 L656,246.3 L656.5,245.86 L657,245.42 L657.5,244.97 L658,244.53 L658.5,244.08 L659,243.63 L659.5,243.18 L660,242.73 L660.5,242.27 L661,241.82 L661.5,241.36 L662,240.9 L662.5,240.45 L663,239.99 L663.5,239.52 L664,239.06 L664.5,238.6 L665,238.13 L665.5,237.67 L666,237.2 L666.5,236.73 L667,236.27 L667.5,235.8 L668,235.33 L668.5,234.86 L669,234.39 L669.5,233.91 L670,233.44 L670.5,232.97 L671,232.49 L671.5,232.01 L672,231.53 L672.5,231.05 L673,230.56 L673.5,230.07 L674,229.58 L674.5,229.09 L675,228.6 L675.5,228.1 L676,227.6 L676.5,227.09 L677,226.59 L677.5,226.08 L678,225.56 L678.5,225.05 L679,224.53 L679.5,224 L680,223.47 L680.5,222.94 L681,222.4 L681.5,221.86 L682,221.33 L682.5,220.81 L683,220.33 L683.5,219.92 L684,219.58" stroke="#f09a36"/>
</g>
<path d="M489.40,294.6v-3M489.40,152v3M559.20,294.6v-3M559.20,152v3M629.00,294.6v-3M629.00,152v3M475.5,291.68h3M682.5,291.68h-3M475.5,258.61h3M682.5,258.61h-3M475.5,225.54h3M682.5,225.54h-3M475.5,192.47h3M682.5,192.47h-3M475.5,159.40h3M682.5,159.40h-3" stroke="#9a9a9a" stroke-width="1" fill="none"/>
<rect x="475.5" y="152" width="207.0" height="142.60000000000002" fill="none" stroke="#9a9a9a" stroke-width="1.2"/>
<path d="M592.1,189.4V291" stroke="#7a7a7a" stroke-width="1.1"/>
<path d="M589.3,288.8L592.1,295.8L594.9,288.8L592.1,290.8Z" fill="#111"/>
<g font-family="Liberation Sans, sans-serif" font-size="13.3" fill="#333"><text x="489.4" y="310.7" text-anchor="middle">670</text><text x="559.2" y="310.7" text-anchor="middle">680</text><text x="629.0" y="310.7" text-anchor="middle">690</text><text x="471.3" y="296.4" text-anchor="end" textLength="31.3" lengthAdjust="spacingAndGlyphs">0.932</text><text x="471.3" y="263.3" text-anchor="end" textLength="31.3" lengthAdjust="spacingAndGlyphs">0.933</text><text x="471.3" y="230.2" text-anchor="end" textLength="31.3" lengthAdjust="spacingAndGlyphs">0.934</text><text x="471.3" y="197.2" text-anchor="end" textLength="31.3" lengthAdjust="spacingAndGlyphs">0.935</text><text x="471.3" y="164.1" text-anchor="end" textLength="31.3" lengthAdjust="spacingAndGlyphs">0.936</text></g>
</svg>
</body></html>
